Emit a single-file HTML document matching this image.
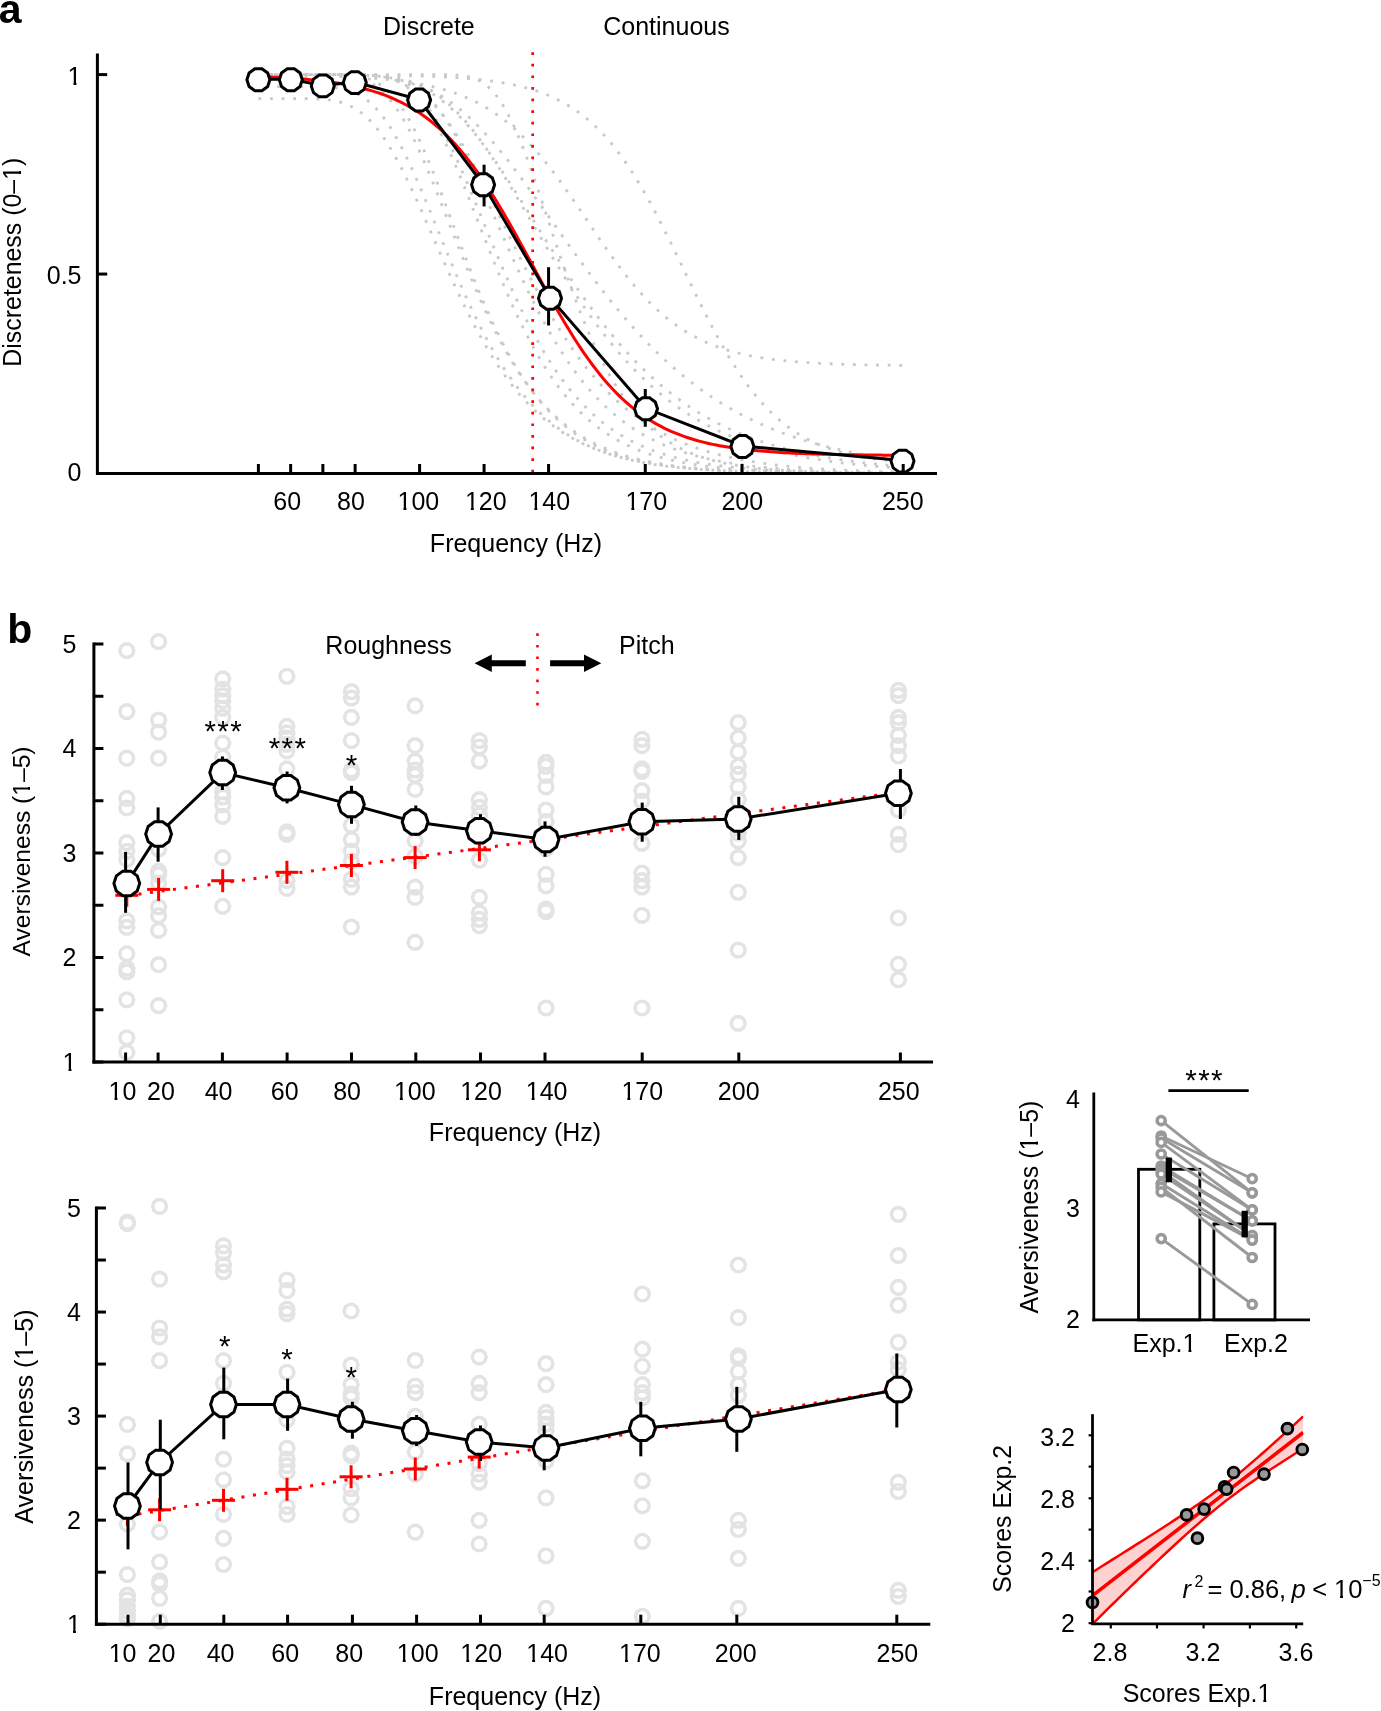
<!DOCTYPE html>
<html><head><meta charset="utf-8"><style>
html,body{margin:0;padding:0;background:#fff;}
body{width:1381px;height:1711px;overflow:hidden;font-family:"Liberation Sans", sans-serif;}
svg{display:block;will-change:transform;}
</style></head><body>
<svg width="1381" height="1711" viewBox="0 0 1381 1711" font-family='"Liberation Sans", sans-serif' stroke-linecap="butt">
<polyline points="258.4,98.53 261.62,98.53 264.85,98.53 268.07,98.53 271.3,98.53 274.52,98.53 277.74,98.53 280.97,98.54 284.19,98.54 287.42,98.54 290.64,98.54 293.86,98.55 297.09,98.56 300.31,98.58 303.54,98.61 306.76,98.65 309.98,98.71 313.21,98.79 316.43,98.91 319.66,99.08 322.88,99.3 326.1,99.59 329.33,99.97 332.55,100.45 335.78,101.06 339,101.81 342.22,102.73 345.45,103.83 348.67,105.15 351.9,106.69 355.12,108.49 358.34,110.56 361.57,112.92 364.79,115.59 368.02,118.56 371.24,121.86 374.46,125.49 377.69,129.46 380.91,133.75 384.14,138.36 387.36,143.29 390.58,148.53 393.81,154.06 397.03,159.87 400.26,165.93 403.48,172.23 406.7,178.75 409.93,185.46 413.15,192.33 416.38,199.35 419.6,206.49 422.82,213.72 426.05,221.02 429.27,228.37 432.5,235.74 435.72,243.11 438.94,250.47 442.17,257.79 445.39,265.05 448.62,272.24 451.84,279.34 455.06,286.34 458.29,293.22 461.51,299.98 464.74,306.61 467.96,313.09 471.18,319.41 474.41,325.59 477.63,331.6 480.86,337.44 484.08,343.11 487.3,348.61 490.53,353.95 493.75,359.1 496.98,364.09 500.2,368.9 503.42,373.55 506.65,378.02 509.87,382.33 513.1,386.48 516.32,390.47 519.54,394.3 522.77,397.97 525.99,401.5 529.22,404.88 532.44,408.12 535.66,411.23 538.89,414.2 542.11,417.04 545.34,419.76 548.56,422.36 551.78,424.84 555.01,427.21 558.23,429.47 561.46,431.63 564.68,433.69 567.9,435.66 571.13,437.53 574.35,439.31 577.58,441.01 580.8,442.63 584.02,444.18 587.25,445.65 590.47,447.04 593.7,448.37 596.92,449.64 600.14,450.84 603.37,451.99 606.59,453.08 609.82,454.11 613.04,455.1 616.26,456.03 619.49,456.92 622.71,457.77 625.94,458.57 629.16,459.33 632.38,460.06 635.61,460.74 638.83,461.4 642.06,462.02 645.28,462.61 648.5,463.17 651.73,463.7 654.95,464.2 658.18,464.68 661.4,465.13 664.62,465.57 667.85,465.97 671.07,466.36 674.3,466.73 677.52,467.08 680.74,467.41 683.97,467.73 687.19,468.02 690.42,468.31 693.64,468.58 696.86,468.83 700.09,469.07 703.31,469.3 706.54,469.52 709.76,469.73 712.98,469.92 716.21,470.11 719.43,470.28 722.66,470.45 725.88,470.61 729.1,470.76 732.33,470.9 735.55,471.04 738.78,471.16 742,471.28 745.22,471.4 748.45,471.51 751.67,471.61 754.9,471.71 758.12,471.8 761.34,471.89 764.57,471.97 767.79,472.05 771.02,472.13 774.24,472.2 777.46,472.27 780.69,472.33 783.91,472.39 787.14,472.45 790.36,472.5 793.58,472.56 796.81,472.61 800.03,472.65 803.26,472.7 806.48,472.74 809.7,472.78 812.93,472.82 816.15,472.85 819.38,472.88 822.6,472.92 825.82,472.95 829.05,472.98 832.27,473 835.5,473.03 838.72,473.05 841.94,473.08 845.17,473.1 848.39,473.12 851.62,473.14 854.84,473.16 858.06,473.18 861.29,473.19 864.51,473.21 867.74,473.22 870.96,473.24 874.18,473.25 877.41,473.26 880.63,473.28 883.86,473.29 887.08,473.3 890.3,473.31 893.53,473.32 896.75,473.33 899.98,473.34 903.2,473.35" fill="none" stroke="#c8c8c8" stroke-width="2.8" stroke-dasharray="2.8 8.8" stroke-dashoffset="0"/>
<polyline points="258.4,86.57 261.62,86.57 264.85,86.57 268.07,86.57 271.3,86.57 274.52,86.57 277.74,86.57 280.97,86.57 284.19,86.57 287.42,86.57 290.64,86.57 293.86,86.57 297.09,86.57 300.31,86.58 303.54,86.58 306.76,86.6 309.98,86.62 313.21,86.65 316.43,86.69 319.66,86.76 322.88,86.86 326.1,87 329.33,87.19 332.55,87.45 335.78,87.79 339,88.24 342.22,88.81 345.45,89.53 348.67,90.43 351.9,91.52 355.12,92.83 358.34,94.4 361.57,96.23 364.79,98.36 368.02,100.81 371.24,103.6 374.46,106.73 377.69,110.22 380.91,114.07 384.14,118.3 387.36,122.89 390.58,127.84 393.81,133.15 397.03,138.8 400.26,144.77 403.48,151.04 406.7,157.6 409.93,164.41 413.15,171.46 416.38,178.71 419.6,186.14 422.82,193.72 426.05,201.42 429.27,209.21 432.5,217.06 435.72,224.96 438.94,232.87 442.17,240.76 445.39,248.62 448.62,256.42 451.84,264.15 455.06,271.79 458.29,279.31 461.51,286.71 464.74,293.96 467.96,301.07 471.18,308.02 474.41,314.8 477.63,321.41 480.86,327.83 484.08,334.07 487.3,340.12 490.53,345.97 493.75,351.64 496.98,357.12 500.2,362.4 503.42,367.49 506.65,372.39 509.87,377.11 513.1,381.64 516.32,386 519.54,390.17 522.77,394.18 525.99,398.02 529.22,401.69 532.44,405.21 535.66,408.57 538.89,411.78 542.11,414.85 545.34,417.78 548.56,420.57 551.78,423.24 555.01,425.78 558.23,428.2 561.46,430.51 564.68,432.7 567.9,434.79 571.13,436.78 574.35,438.67 577.58,440.47 580.8,442.18 584.02,443.81 587.25,445.35 590.47,446.82 593.7,448.22 596.92,449.54 600.14,450.79 603.37,451.99 606.59,453.12 609.82,454.19 613.04,455.21 616.26,456.18 619.49,457.09 622.71,457.96 625.94,458.78 629.16,459.56 632.38,460.3 635.61,461.01 638.83,461.67 642.06,462.3 645.28,462.9 648.5,463.46 651.73,464 654.95,464.51 658.18,464.99 661.4,465.44 664.62,465.87 667.85,466.28 671.07,466.67 674.3,467.03 677.52,467.38 680.74,467.71 683.97,468.02 687.19,468.31 690.42,468.59 693.64,468.86 696.86,469.11 700.09,469.34 703.31,469.57 706.54,469.78 709.76,469.98 712.98,470.17 716.21,470.35 719.43,470.52 722.66,470.68 725.88,470.83 729.1,470.97 732.33,471.11 735.55,471.24 738.78,471.36 742,471.47 745.22,471.58 748.45,471.69 751.67,471.79 754.9,471.88 758.12,471.97 761.34,472.05 764.57,472.13 767.79,472.2 771.02,472.27 774.24,472.34 777.46,472.4 780.69,472.46 783.91,472.52 787.14,472.57 790.36,472.62 793.58,472.67 796.81,472.71 800.03,472.75 803.26,472.79 806.48,472.83 809.7,472.87 812.93,472.9 816.15,472.93 819.38,472.97 822.6,472.99 825.82,473.02 829.05,473.05 832.27,473.07 835.5,473.09 838.72,473.12 841.94,473.14 845.17,473.16 848.39,473.18 851.62,473.19 854.84,473.21 858.06,473.23 861.29,473.24 864.51,473.25 867.74,473.27 870.96,473.28 874.18,473.29 877.41,473.3 880.63,473.31 883.86,473.32 887.08,473.33 890.3,473.34 893.53,473.35 896.75,473.36 899.98,473.37 903.2,473.37" fill="none" stroke="#c8c8c8" stroke-width="2.8" stroke-dasharray="2.8 8.8" stroke-dashoffset="4.5"/>
<polyline points="258.4,74.6 261.62,74.6 264.85,74.6 268.07,74.6 271.3,74.6 274.52,74.6 277.74,74.6 280.97,74.6 284.19,74.6 287.42,74.6 290.64,74.6 293.86,74.6 297.09,74.6 300.31,74.6 303.54,74.6 306.76,74.6 309.98,74.61 313.21,74.61 316.43,74.62 319.66,74.63 322.88,74.65 326.1,74.69 329.33,74.74 332.55,74.82 335.78,74.93 339,75.08 342.22,75.3 345.45,75.59 348.67,75.97 351.9,76.47 355.12,77.1 358.34,77.9 361.57,78.89 364.79,80.1 368.02,81.55 371.24,83.27 374.46,85.28 377.69,87.62 380.91,90.29 384.14,93.33 387.36,96.73 390.58,100.52 393.81,104.7 397.03,109.26 400.26,114.21 403.48,119.54 406.7,125.23 409.93,131.27 413.15,137.65 416.38,144.34 419.6,151.31 422.82,158.54 426.05,166 429.27,173.66 432.5,181.49 435.72,189.46 438.94,197.55 442.17,205.71 445.39,213.93 448.62,222.17 451.84,230.41 455.06,238.62 458.29,246.78 461.51,254.87 464.74,262.86 467.96,270.75 471.18,278.5 474.41,286.12 477.63,293.57 480.86,300.87 484.08,307.99 487.3,314.92 490.53,321.67 493.75,328.22 496.98,334.57 500.2,340.72 503.42,346.67 506.65,352.42 509.87,357.97 513.1,363.31 516.32,368.45 519.54,373.4 522.77,378.16 525.99,382.72 529.22,387.1 532.44,391.29 535.66,395.31 538.89,399.16 542.11,402.83 545.34,406.35 548.56,409.71 551.78,412.91 555.01,415.97 558.23,418.89 561.46,421.67 564.68,424.32 567.9,426.84 571.13,429.24 574.35,431.53 577.58,433.7 580.8,435.77 584.02,437.74 587.25,439.6 590.47,441.38 593.7,443.07 596.92,444.67 600.14,446.19 603.37,447.63 606.59,449 609.82,450.3 613.04,451.53 616.26,452.7 619.49,453.81 622.71,454.86 625.94,455.85 629.16,456.79 632.38,457.69 635.61,458.54 638.83,459.34 642.06,460.1 645.28,460.82 648.5,461.5 651.73,462.15 654.95,462.76 658.18,463.34 661.4,463.89 664.62,464.41 667.85,464.9 671.07,465.36 674.3,465.8 677.52,466.22 680.74,466.61 683.97,466.99 687.19,467.34 690.42,467.67 693.64,467.99 696.86,468.29 700.09,468.57 703.31,468.84 706.54,469.09 709.76,469.33 712.98,469.56 716.21,469.77 719.43,469.98 722.66,470.17 725.88,470.35 729.1,470.52 732.33,470.68 735.55,470.84 738.78,470.98 742,471.12 745.22,471.25 748.45,471.37 751.67,471.49 754.9,471.6 758.12,471.7 761.34,471.8 764.57,471.89 767.79,471.98 771.02,472.06 774.24,472.14 777.46,472.21 780.69,472.28 783.91,472.35 787.14,472.41 790.36,472.47 793.58,472.53 796.81,472.58 800.03,472.63 803.26,472.68 806.48,472.72 809.7,472.77 812.93,472.81 816.15,472.84 819.38,472.88 822.6,472.91 825.82,472.95 829.05,472.98 832.27,473 835.5,473.03 838.72,473.06 841.94,473.08 845.17,473.1 848.39,473.13 851.62,473.15 854.84,473.17 858.06,473.18 861.29,473.2 864.51,473.22 867.74,473.23 870.96,473.25 874.18,473.26 877.41,473.27 880.63,473.29 883.86,473.3 887.08,473.31 890.3,473.32 893.53,473.33 896.75,473.34 899.98,473.35 903.2,473.36" fill="none" stroke="#c8c8c8" stroke-width="2.8" stroke-dasharray="2.8 8.8" stroke-dashoffset="0"/>
<polyline points="258.4,74.6 261.62,74.6 264.85,74.6 268.07,74.6 271.3,74.6 274.52,74.6 277.74,74.6 280.97,74.6 284.19,74.6 287.42,74.6 290.64,74.6 293.86,74.6 297.09,74.6 300.31,74.6 303.54,74.6 306.76,74.6 309.98,74.6 313.21,74.6 316.43,74.6 319.66,74.61 322.88,74.61 326.1,74.62 329.33,74.63 332.55,74.66 335.78,74.7 339,74.76 342.22,74.85 345.45,74.98 348.67,75.16 351.9,75.41 355.12,75.76 358.34,76.22 361.57,76.82 364.79,77.59 368.02,78.55 371.24,79.74 374.46,81.19 377.69,82.93 380.91,84.99 384.14,87.4 387.36,90.18 390.58,93.35 393.81,96.93 397.03,100.92 400.26,105.34 403.48,110.19 406.7,115.46 409.93,121.14 413.15,127.22 416.38,133.67 419.6,140.48 422.82,147.62 426.05,155.06 429.27,162.77 432.5,170.71 435.72,178.85 438.94,187.15 442.17,195.59 445.39,204.12 448.62,212.72 451.84,221.35 455.06,229.97 458.29,238.57 461.51,247.12 464.74,255.58 467.96,263.94 471.18,272.17 474.41,280.26 477.63,288.19 480.86,295.95 484.08,303.53 487.3,310.91 490.53,318.08 493.75,325.05 496.98,331.79 500.2,338.32 503.42,344.63 506.65,350.72 509.87,356.58 513.1,362.23 516.32,367.65 519.54,372.86 522.77,377.85 525.99,382.64 529.22,387.22 532.44,391.61 535.66,395.79 538.89,399.79 542.11,403.61 545.34,407.25 548.56,410.72 551.78,414.03 555.01,417.17 558.23,420.16 561.46,423.01 564.68,425.71 567.9,428.28 571.13,430.72 574.35,433.04 577.58,435.23 580.8,437.32 584.02,439.29 587.25,441.16 590.47,442.94 593.7,444.62 596.92,446.21 600.14,447.72 603.37,449.15 606.59,450.5 609.82,451.77 613.04,452.98 616.26,454.13 619.49,455.21 622.71,456.23 625.94,457.2 629.16,458.11 632.38,458.97 635.61,459.79 638.83,460.56 642.06,461.29 645.28,461.97 648.5,462.62 651.73,463.24 654.95,463.82 658.18,464.36 661.4,464.88 664.62,465.37 667.85,465.83 671.07,466.26 674.3,466.67 677.52,467.06 680.74,467.42 683.97,467.77 687.19,468.09 690.42,468.4 693.64,468.69 696.86,468.96 700.09,469.22 703.31,469.46 706.54,469.69 709.76,469.91 712.98,470.11 716.21,470.31 719.43,470.49 722.66,470.66 725.88,470.82 729.1,470.97 732.33,471.12 735.55,471.25 738.78,471.38 742,471.5 745.22,471.62 748.45,471.72 751.67,471.82 754.9,471.92 758.12,472.01 761.34,472.1 764.57,472.18 767.79,472.25 771.02,472.32 774.24,472.39 777.46,472.45 780.69,472.51 783.91,472.57 787.14,472.62 790.36,472.67 793.58,472.72 796.81,472.76 800.03,472.81 803.26,472.85 806.48,472.88 809.7,472.92 812.93,472.95 816.15,472.98 819.38,473.01 822.6,473.04 825.82,473.07 829.05,473.09 832.27,473.11 835.5,473.14 838.72,473.16 841.94,473.18 845.17,473.2 848.39,473.21 851.62,473.23 854.84,473.24 858.06,473.26 861.29,473.27 864.51,473.29 867.74,473.3 870.96,473.31 874.18,473.32 877.41,473.33 880.63,473.34 883.86,473.35 887.08,473.36 890.3,473.37 893.53,473.37 896.75,473.38 899.98,473.39 903.2,473.39" fill="none" stroke="#c8c8c8" stroke-width="2.8" stroke-dasharray="2.8 8.8" stroke-dashoffset="6"/>
<polyline points="258.4,74.6 261.62,74.6 264.85,74.6 268.07,74.6 271.3,74.6 274.52,74.6 277.74,74.6 280.97,74.6 284.19,74.6 287.42,74.6 290.64,74.6 293.86,74.6 297.09,74.6 300.31,74.6 303.54,74.6 306.76,74.6 309.98,74.6 313.21,74.6 316.43,74.6 319.66,74.6 322.88,74.6 326.1,74.6 329.33,74.6 332.55,74.6 335.78,74.6 339,74.6 342.22,74.61 345.45,74.62 348.67,74.63 351.9,74.65 355.12,74.68 358.34,74.72 361.57,74.79 364.79,74.89 368.02,75.03 371.24,75.23 374.46,75.49 377.69,75.85 380.91,76.31 384.14,76.91 387.36,77.66 390.58,78.6 393.81,79.74 397.03,81.13 400.26,82.78 403.48,84.72 406.7,86.97 409.93,89.57 413.15,92.51 416.38,95.83 419.6,99.54 422.82,103.63 426.05,108.11 429.27,112.98 432.5,118.23 435.72,123.85 438.94,129.83 442.17,136.15 445.39,142.78 448.62,149.71 451.84,156.9 455.06,164.34 458.29,171.98 461.51,179.8 464.74,187.77 467.96,195.85 471.18,204.03 474.41,212.26 477.63,220.52 480.86,228.78 484.08,237.03 487.3,245.22 490.53,253.35 493.75,261.38 496.98,269.31 500.2,277.11 503.42,284.77 506.65,292.28 509.87,299.63 513.1,306.79 516.32,313.78 519.54,320.58 522.77,327.18 525.99,333.58 529.22,339.78 532.44,345.78 535.66,351.57 538.89,357.17 542.11,362.55 545.34,367.74 548.56,372.73 551.78,377.52 555.01,382.12 558.23,386.54 561.46,390.77 564.68,394.82 567.9,398.7 571.13,402.41 574.35,405.95 577.58,409.33 580.8,412.57 584.02,415.65 587.25,418.59 590.47,421.39 593.7,424.06 596.92,426.6 600.14,429.02 603.37,431.33 606.59,433.52 609.82,435.6 613.04,437.58 616.26,439.46 619.49,441.25 622.71,442.94 625.94,444.56 629.16,446.09 632.38,447.54 635.61,448.91 638.83,450.22 642.06,451.46 645.28,452.64 648.5,453.75 651.73,454.81 654.95,455.81 658.18,456.76 661.4,457.65 664.62,458.51 667.85,459.31 671.07,460.08 674.3,460.8 677.52,461.49 680.74,462.13 683.97,462.75 687.19,463.33 690.42,463.88 693.64,464.4 696.86,464.89 700.09,465.36 703.31,465.8 706.54,466.22 709.76,466.62 712.98,466.99 716.21,467.34 719.43,467.68 722.66,467.99 725.88,468.29 729.1,468.58 732.33,468.85 735.55,469.1 738.78,469.34 742,469.57 745.22,469.78 748.45,469.98 751.67,470.18 754.9,470.36 758.12,470.53 761.34,470.69 764.57,470.84 767.79,470.99 771.02,471.13 774.24,471.26 777.46,471.38 780.69,471.49 783.91,471.6 787.14,471.71 790.36,471.81 793.58,471.9 796.81,471.99 800.03,472.07 803.26,472.15 806.48,472.22 809.7,472.29 812.93,472.36 816.15,472.42 819.38,472.48 822.6,472.53 825.82,472.59 829.05,472.64 832.27,472.68 835.5,472.73 838.72,472.77 841.94,472.81 845.17,472.85 848.39,472.88 851.62,472.92 854.84,472.95 858.06,472.98 861.29,473.01 864.51,473.04 867.74,473.06 870.96,473.08 874.18,473.11 877.41,473.13 880.63,473.15 883.86,473.17 887.08,473.19 890.3,473.2 893.53,473.22 896.75,473.24 899.98,473.25 903.2,473.26" fill="none" stroke="#c8c8c8" stroke-width="2.8" stroke-dasharray="2.8 8.8" stroke-dashoffset="0"/>
<polyline points="258.4,74.6 261.62,74.6 264.85,74.6 268.07,74.6 271.3,74.6 274.52,74.6 277.74,74.6 280.97,74.6 284.19,74.6 287.42,74.6 290.64,74.6 293.86,74.6 297.09,74.6 300.31,74.6 303.54,74.6 306.76,74.6 309.98,74.6 313.21,74.6 316.43,74.6 319.66,74.6 322.88,74.6 326.1,74.6 329.33,74.6 332.55,74.6 335.78,74.6 339,74.61 342.22,74.61 345.45,74.62 348.67,74.63 351.9,74.66 355.12,74.69 358.34,74.74 361.57,74.81 364.79,74.91 368.02,75.05 371.24,75.24 374.46,75.5 377.69,75.84 380.91,76.28 384.14,76.83 387.36,77.52 390.58,78.38 393.81,79.42 397.03,80.67 400.26,82.15 403.48,83.89 406.7,85.9 409.93,88.21 413.15,90.84 416.38,93.79 419.6,97.09 422.82,100.73 426.05,104.73 429.27,109.08 432.5,113.78 435.72,118.82 438.94,124.21 442.17,129.91 445.39,135.92 448.62,142.22 451.84,148.78 455.06,155.59 458.29,162.62 461.51,169.85 464.74,177.24 467.96,184.78 471.18,192.43 474.41,200.18 477.63,207.99 480.86,215.84 484.08,223.71 487.3,231.57 490.53,239.4 493.75,247.18 496.98,254.9 500.2,262.53 503.42,270.06 506.65,277.48 509.87,284.77 513.1,291.92 516.32,298.92 519.54,305.76 522.77,312.44 525.99,318.95 529.22,325.28 532.44,331.44 535.66,337.41 538.89,343.2 542.11,348.8 545.34,354.22 548.56,359.45 551.78,364.51 555.01,369.38 558.23,374.07 561.46,378.59 564.68,382.93 567.9,387.1 571.13,391.11 574.35,394.96 577.58,398.65 580.8,402.18 584.02,405.57 587.25,408.81 590.47,411.91 593.7,414.88 596.92,417.71 600.14,420.42 603.37,423.01 606.59,425.48 609.82,427.84 613.04,430.09 616.26,432.23 619.49,434.28 622.71,436.22 625.94,438.08 629.16,439.85 632.38,441.53 635.61,443.14 638.83,444.66 642.06,446.12 645.28,447.5 648.5,448.81 651.73,450.06 654.95,451.25 658.18,452.38 661.4,453.46 664.62,454.48 667.85,455.45 671.07,456.37 674.3,457.25 677.52,458.08 680.74,458.87 683.97,459.62 687.19,460.33 690.42,461.01 693.64,461.65 696.86,462.26 700.09,462.84 703.31,463.39 706.54,463.91 709.76,464.4 712.98,464.87 716.21,465.32 719.43,465.74 722.66,466.14 725.88,466.52 729.1,466.89 732.33,467.23 735.55,467.55 738.78,467.86 742,468.15 745.22,468.43 748.45,468.69 751.67,468.94 754.9,469.18 758.12,469.4 761.34,469.62 764.57,469.82 767.79,470.01 771.02,470.19 774.24,470.36 777.46,470.53 780.69,470.68 783.91,470.83 787.14,470.97 790.36,471.1 793.58,471.22 796.81,471.34 800.03,471.46 803.26,471.56 806.48,471.66 809.7,471.76 812.93,471.85 816.15,471.94 819.38,472.02 822.6,472.09 825.82,472.17 829.05,472.24 832.27,472.3 835.5,472.36 838.72,472.42 841.94,472.48 845.17,472.53 848.39,472.58 851.62,472.63 854.84,472.68 858.06,472.72 861.29,472.76 864.51,472.8 867.74,472.84 870.96,472.87 874.18,472.9 877.41,472.93 880.63,472.96 883.86,472.99 887.08,473.02 890.3,473.04 893.53,473.07 896.75,473.09 899.98,473.11 903.2,473.13" fill="none" stroke="#c8c8c8" stroke-width="2.8" stroke-dasharray="2.8 8.8" stroke-dashoffset="2.5"/>
<polyline points="258.4,74.6 261.62,74.6 264.85,74.6 268.07,74.6 271.3,74.6 274.52,74.6 277.74,74.6 280.97,74.6 284.19,74.6 287.42,74.6 290.64,74.6 293.86,74.6 297.09,74.6 300.31,74.6 303.54,74.6 306.76,74.6 309.98,74.6 313.21,74.6 316.43,74.6 319.66,74.6 322.88,74.6 326.1,74.6 329.33,74.6 332.55,74.6 335.78,74.6 339,74.6 342.22,74.61 345.45,74.61 348.67,74.62 351.9,74.63 355.12,74.65 358.34,74.68 361.57,74.72 364.79,74.78 368.02,74.87 371.24,74.98 374.46,75.13 377.69,75.34 380.91,75.6 384.14,75.94 387.36,76.37 390.58,76.9 393.81,77.56 397.03,78.36 400.26,79.32 403.48,80.46 406.7,81.8 409.93,83.36 413.15,85.15 416.38,87.19 419.6,89.5 422.82,92.1 426.05,94.98 429.27,98.16 432.5,101.64 435.72,105.44 438.94,109.54 442.17,113.94 445.39,118.65 448.62,123.65 451.84,128.93 455.06,134.47 458.29,140.28 461.51,146.32 464.74,152.58 467.96,159.04 471.18,165.68 474.41,172.48 477.63,179.42 480.86,186.48 484.08,193.64 487.3,200.87 490.53,208.16 493.75,215.48 496.98,222.81 500.2,230.15 503.42,237.46 506.65,244.73 509.87,251.95 513.1,259.1 516.32,266.17 519.54,273.15 522.77,280.02 525.99,286.78 529.22,293.41 532.44,299.92 535.66,306.28 538.89,312.5 542.11,318.58 545.34,324.5 548.56,330.26 551.78,335.87 555.01,341.32 558.23,346.6 561.46,351.73 564.68,356.7 567.9,361.51 571.13,366.15 574.35,370.65 577.58,374.98 580.8,379.17 584.02,383.2 587.25,387.09 590.47,390.83 593.7,394.43 596.92,397.9 600.14,401.23 603.37,404.43 606.59,407.5 609.82,410.45 613.04,413.28 616.26,415.99 619.49,418.6 622.71,421.09 625.94,423.48 629.16,425.77 632.38,427.95 635.61,430.05 638.83,432.06 642.06,433.97 645.28,435.81 648.5,437.56 651.73,439.23 654.95,440.84 658.18,442.36 661.4,443.82 664.62,445.22 667.85,446.55 671.07,447.82 674.3,449.04 677.52,450.19 680.74,451.3 683.97,452.35 687.19,453.36 690.42,454.31 693.64,455.23 696.86,456.1 700.09,456.93 703.31,457.72 706.54,458.48 709.76,459.2 712.98,459.88 716.21,460.54 719.43,461.16 722.66,461.75 725.88,462.32 729.1,462.85 732.33,463.37 735.55,463.85 738.78,464.32 742,464.76 745.22,465.18 748.45,465.59 751.67,465.97 754.9,466.33 758.12,466.68 761.34,467.01 764.57,467.32 767.79,467.62 771.02,467.91 774.24,468.18 777.46,468.44 780.69,468.68 783.91,468.91 787.14,469.14 790.36,469.35 793.58,469.55 796.81,469.74 800.03,469.92 803.26,470.1 806.48,470.26 809.7,470.42 812.93,470.57 816.15,470.71 819.38,470.85 822.6,470.98 825.82,471.1 829.05,471.22 832.27,471.33 835.5,471.43 838.72,471.53 841.94,471.63 845.17,471.72 848.39,471.81 851.62,471.89 854.84,471.97 858.06,472.04 861.29,472.11 864.51,472.18 867.74,472.24 870.96,472.31 874.18,472.36 877.41,472.42 880.63,472.47 883.86,472.52 887.08,472.57 890.3,472.62 893.53,472.66 896.75,472.7 899.98,472.74 903.2,472.78" fill="none" stroke="#c8c8c8" stroke-width="2.8" stroke-dasharray="2.8 8.8" stroke-dashoffset="0"/>
<polyline points="258.4,74.6 261.62,74.6 264.85,74.6 268.07,74.6 271.3,74.6 274.52,74.6 277.74,74.6 280.97,74.6 284.19,74.6 287.42,74.6 290.64,74.6 293.86,74.6 297.09,74.6 300.31,74.6 303.54,74.6 306.76,74.6 309.98,74.6 313.21,74.6 316.43,74.6 319.66,74.6 322.88,74.6 326.1,74.6 329.33,74.61 332.55,74.61 335.78,74.61 339,74.62 342.22,74.64 345.45,74.65 348.67,74.68 351.9,74.71 355.12,74.76 358.34,74.83 361.57,74.92 364.79,75.04 368.02,75.19 371.24,75.39 374.46,75.64 377.69,75.95 380.91,76.33 384.14,76.8 387.36,77.37 390.58,78.04 393.81,78.85 397.03,79.79 400.26,80.88 403.48,82.14 406.7,83.58 409.93,85.21 413.15,87.05 416.38,89.11 419.6,91.39 422.82,93.9 426.05,96.65 429.27,99.65 432.5,102.9 435.72,106.4 438.94,110.15 442.17,114.14 445.39,118.38 448.62,122.85 451.84,127.56 455.06,132.48 458.29,137.62 461.51,142.96 464.74,148.48 467.96,154.18 471.18,160.03 474.41,166.03 477.63,172.16 480.86,178.4 484.08,184.74 487.3,191.17 490.53,197.66 493.75,204.2 496.98,210.78 500.2,217.38 503.42,223.99 506.65,230.6 509.87,237.18 513.1,243.74 516.32,250.25 519.54,256.71 522.77,263.11 525.99,269.44 529.22,275.69 532.44,281.85 535.66,287.91 538.89,293.87 542.11,299.73 545.34,305.47 548.56,311.1 551.78,316.61 555.01,322 558.23,327.26 561.46,332.39 564.68,337.4 567.9,342.27 571.13,347.02 574.35,351.63 577.58,356.12 580.8,360.47 584.02,364.7 587.25,368.79 590.47,372.77 593.7,376.61 596.92,380.34 600.14,383.94 603.37,387.42 606.59,390.79 609.82,394.04 613.04,397.19 616.26,400.22 619.49,403.14 622.71,405.96 625.94,408.68 629.16,411.3 632.38,413.82 635.61,416.25 638.83,418.59 642.06,420.84 645.28,423.01 648.5,425.09 651.73,427.09 654.95,429.02 658.18,430.87 661.4,432.65 664.62,434.36 667.85,436 671.07,437.57 674.3,439.08 677.52,440.54 680.74,441.93 683.97,443.26 687.19,444.55 690.42,445.78 693.64,446.96 696.86,448.09 700.09,449.17 703.31,450.21 706.54,451.21 709.76,452.16 712.98,453.08 716.21,453.96 719.43,454.8 722.66,455.6 725.88,456.37 729.1,457.11 732.33,457.82 735.55,458.5 738.78,459.14 742,459.77 745.22,460.36 748.45,460.93 751.67,461.48 754.9,462 758.12,462.5 761.34,462.98 764.57,463.43 767.79,463.87 771.02,464.29 774.24,464.69 777.46,465.07 780.69,465.44 783.91,465.79 787.14,466.13 790.36,466.45 793.58,466.76 796.81,467.05 800.03,467.34 803.26,467.61 806.48,467.86 809.7,468.11 812.93,468.35 816.15,468.57 819.38,468.79 822.6,468.99 825.82,469.19 829.05,469.38 832.27,469.56 835.5,469.73 838.72,469.9 841.94,470.06 845.17,470.21 848.39,470.35 851.62,470.49 854.84,470.62 858.06,470.75 861.29,470.87 864.51,470.98 867.74,471.09 870.96,471.2 874.18,471.3 877.41,471.4 880.63,471.49 883.86,471.58 887.08,471.66 890.3,471.74 893.53,471.82 896.75,471.89 899.98,471.97 903.2,472.03" fill="none" stroke="#c8c8c8" stroke-width="2.8" stroke-dasharray="2.8 8.8" stroke-dashoffset="0"/>
<polyline points="258.4,74.6 261.62,74.6 264.85,74.6 268.07,74.6 271.3,74.6 274.52,74.6 277.74,74.6 280.97,74.6 284.19,74.6 287.42,74.6 290.64,74.6 293.86,74.6 297.09,74.6 300.31,74.6 303.54,74.6 306.76,74.6 309.98,74.6 313.21,74.6 316.43,74.6 319.66,74.6 322.88,74.61 326.1,74.61 329.33,74.61 332.55,74.62 335.78,74.63 339,74.64 342.22,74.65 345.45,74.67 348.67,74.7 351.9,74.73 355.12,74.78 358.34,74.83 361.57,74.91 364.79,75 368.02,75.11 371.24,75.26 374.46,75.43 377.69,75.64 380.91,75.9 384.14,76.2 387.36,76.56 390.58,76.99 393.81,77.48 397.03,78.05 400.26,78.71 403.48,79.46 406.7,80.32 409.93,81.29 413.15,82.37 416.38,83.58 419.6,84.92 422.82,86.41 426.05,88.04 429.27,89.82 432.5,91.77 435.72,93.87 438.94,96.14 442.17,98.58 445.39,101.19 448.62,103.97 451.84,106.93 455.06,110.06 458.29,113.36 461.51,116.83 464.74,120.46 467.96,124.26 471.18,128.21 474.41,132.31 477.63,136.57 480.86,140.96 484.08,145.48 487.3,150.13 490.53,154.89 493.75,159.76 496.98,164.74 500.2,169.8 503.42,174.95 506.65,180.18 509.87,185.46 513.1,190.81 516.32,196.19 519.54,201.62 522.77,207.08 525.99,212.56 529.22,218.05 532.44,223.55 535.66,229.04 538.89,234.52 542.11,239.99 545.34,245.43 548.56,250.83 551.78,256.21 555.01,261.54 558.23,266.82 561.46,272.05 564.68,277.22 567.9,282.33 571.13,287.37 574.35,292.34 577.58,297.24 580.8,302.07 584.02,306.81 587.25,311.48 590.47,316.06 593.7,320.56 596.92,324.97 600.14,329.29 603.37,333.53 606.59,337.67 609.82,341.73 613.04,345.7 616.26,349.57 619.49,353.36 622.71,357.06 625.94,360.66 629.16,364.18 632.38,367.61 635.61,370.95 638.83,374.21 642.06,377.38 645.28,380.46 648.5,383.46 651.73,386.38 654.95,389.22 658.18,391.97 661.4,394.65 664.62,397.25 667.85,399.78 671.07,402.23 674.3,404.61 677.52,406.92 680.74,409.16 683.97,411.33 687.19,413.43 690.42,415.47 693.64,417.45 696.86,419.36 700.09,421.21 703.31,423.01 706.54,424.75 709.76,426.43 712.98,428.06 716.21,429.63 719.43,431.15 722.66,432.63 725.88,434.05 729.1,435.43 732.33,436.77 735.55,438.05 738.78,439.3 742,440.5 745.22,441.67 748.45,442.79 751.67,443.88 754.9,444.93 758.12,445.94 761.34,446.92 764.57,447.86 767.79,448.77 771.02,449.66 774.24,450.51 777.46,451.33 780.69,452.12 783.91,452.89 787.14,453.62 790.36,454.34 793.58,455.03 796.81,455.69 800.03,456.33 803.26,456.95 806.48,457.54 809.7,458.12 812.93,458.67 816.15,459.21 819.38,459.72 822.6,460.22 825.82,460.7 829.05,461.17 832.27,461.61 835.5,462.04 838.72,462.46 841.94,462.86 845.17,463.24 848.39,463.62 851.62,463.98 854.84,464.32 858.06,464.66 861.29,464.98 864.51,465.29 867.74,465.59 870.96,465.87 874.18,466.15 877.41,466.42 880.63,466.68 883.86,466.93 887.08,467.17 890.3,467.4 893.53,467.62 896.75,467.83 899.98,468.04 903.2,468.24" fill="none" stroke="#c8c8c8" stroke-width="2.8" stroke-dasharray="2.8 8.8" stroke-dashoffset="0"/>
<polyline points="258.4,74.6 261.62,74.6 264.85,74.6 268.07,74.6 271.3,74.6 274.52,74.6 277.74,74.6 280.97,74.6 284.19,74.6 287.42,74.6 290.64,74.6 293.86,74.6 297.09,74.6 300.31,74.6 303.54,74.6 306.76,74.6 309.98,74.6 313.21,74.61 316.43,74.61 319.66,74.61 322.88,74.62 326.1,74.62 329.33,74.63 332.55,74.65 335.78,74.67 339,74.69 342.22,74.72 345.45,74.76 348.67,74.81 351.9,74.87 355.12,74.94 358.34,75.04 361.57,75.15 364.79,75.3 368.02,75.47 371.24,75.67 374.46,75.92 377.69,76.2 380.91,76.54 384.14,76.93 387.36,77.39 390.58,77.91 393.81,78.51 397.03,79.18 400.26,79.95 403.48,80.81 406.7,81.77 409.93,82.84 413.15,84.03 416.38,85.33 419.6,86.76 422.82,88.32 426.05,90.02 429.27,91.86 432.5,93.84 435.72,95.97 438.94,98.24 442.17,100.67 445.39,103.25 448.62,105.99 451.84,108.87 455.06,111.91 458.29,115.1 461.51,118.43 464.74,121.91 467.96,125.53 471.18,129.29 474.41,133.18 477.63,137.2 480.86,141.35 484.08,145.61 487.3,149.98 490.53,154.45 493.75,159.02 496.98,163.68 500.2,168.42 503.42,173.24 506.65,178.12 509.87,183.07 513.1,188.07 516.32,193.11 519.54,198.2 522.77,203.31 525.99,208.45 529.22,213.6 532.44,218.76 535.66,223.93 538.89,229.09 542.11,234.25 545.34,239.39 548.56,244.51 551.78,249.6 555.01,254.66 558.23,259.68 561.46,264.67 564.68,269.6 567.9,274.49 571.13,279.33 574.35,284.11 577.58,288.83 580.8,293.49 584.02,298.08 587.25,302.6 590.47,307.06 593.7,311.44 596.92,315.75 600.14,319.99 603.37,324.15 606.59,328.23 609.82,332.24 613.04,336.16 616.26,340.01 619.49,343.78 622.71,347.47 625.94,351.08 629.16,354.61 632.38,358.05 635.61,361.43 638.83,364.72 642.06,367.93 645.28,371.07 648.5,374.13 651.73,377.11 654.95,380.02 658.18,382.85 661.4,385.62 664.62,388.31 667.85,390.92 671.07,393.47 674.3,395.95 677.52,398.37 680.74,400.71 683.97,402.99 687.19,405.21 690.42,407.37 693.64,409.46 696.86,411.49 700.09,413.47 703.31,415.39 706.54,417.25 709.76,419.05 712.98,420.81 716.21,422.51 719.43,424.16 722.66,425.76 725.88,427.31 729.1,428.82 732.33,430.27 735.55,431.69 738.78,433.06 742,434.39 745.22,435.67 748.45,436.92 751.67,438.13 754.9,439.3 758.12,440.43 761.34,441.53 764.57,442.59 767.79,443.62 771.02,444.61 774.24,445.58 777.46,446.51 780.69,447.41 783.91,448.29 787.14,449.13 790.36,449.95 793.58,450.74 796.81,451.51 800.03,452.25 803.26,452.96 806.48,453.65 809.7,454.32 812.93,454.97 816.15,455.6 819.38,456.2 822.6,456.79 825.82,457.36 829.05,457.9 832.27,458.43 835.5,458.95 838.72,459.44 841.94,459.92 845.17,460.38 848.39,460.83 851.62,461.26 854.84,461.68 858.06,462.08 861.29,462.47 864.51,462.84 867.74,463.21 870.96,463.56 874.18,463.9 877.41,464.23 880.63,464.55 883.86,464.85 887.08,465.15 890.3,465.43 893.53,465.71 896.75,465.98 899.98,466.24 903.2,466.48" fill="none" stroke="#c8c8c8" stroke-width="2.8" stroke-dasharray="2.8 8.8" stroke-dashoffset="8"/>
<polyline points="258.4,74.6 261.62,74.6 264.85,74.6 268.07,74.6 271.3,74.6 274.52,74.6 277.74,74.6 280.97,74.6 284.19,74.6 287.42,74.6 290.64,74.6 293.86,74.6 297.09,74.6 300.31,74.6 303.54,74.61 306.76,74.61 309.98,74.61 313.21,74.62 316.43,74.62 319.66,74.63 322.88,74.64 326.1,74.65 329.33,74.67 332.55,74.69 335.78,74.72 339,74.75 342.22,74.79 345.45,74.84 348.67,74.9 351.9,74.98 355.12,75.07 358.34,75.18 361.57,75.3 364.79,75.46 368.02,75.63 371.24,75.84 374.46,76.08 377.69,76.36 380.91,76.68 384.14,77.05 387.36,77.46 390.58,77.93 393.81,78.46 397.03,79.05 400.26,79.71 403.48,80.44 406.7,81.25 409.93,82.15 413.15,83.13 416.38,84.2 419.6,85.37 422.82,86.63 426.05,88 429.27,89.47 432.5,91.06 435.72,92.75 438.94,94.56 442.17,96.49 445.39,98.54 448.62,100.7 451.84,102.98 455.06,105.39 458.29,107.91 461.51,110.56 464.74,113.32 467.96,116.2 471.18,119.2 474.41,122.31 477.63,125.53 480.86,128.86 484.08,132.29 487.3,135.83 490.53,139.46 493.75,143.19 496.98,147.01 500.2,150.91 503.42,154.9 506.65,158.95 509.87,163.09 513.1,167.28 516.32,171.54 519.54,175.85 522.77,180.21 525.99,184.62 529.22,189.07 532.44,193.55 535.66,198.06 538.89,202.6 542.11,207.15 545.34,211.72 548.56,216.3 551.78,220.89 555.01,225.47 558.23,230.06 561.46,234.63 564.68,239.19 567.9,243.73 571.13,248.26 574.35,252.76 577.58,257.23 580.8,261.67 584.02,266.08 587.25,270.46 590.47,274.79 593.7,279.08 596.92,283.33 600.14,287.53 603.37,291.68 606.59,295.79 609.82,299.84 613.04,303.83 616.26,307.77 619.49,311.66 622.71,315.48 625.94,319.25 629.16,322.96 632.38,326.6 635.61,330.19 638.83,333.71 642.06,337.18 645.28,340.58 648.5,343.91 651.73,347.19 654.95,350.4 658.18,353.55 661.4,356.64 664.62,359.66 667.85,362.62 671.07,365.52 674.3,368.36 677.52,371.14 680.74,373.86 683.97,376.52 687.19,379.12 690.42,381.66 693.64,384.14 696.86,386.56 700.09,388.93 703.31,391.24 706.54,393.5 709.76,395.71 712.98,397.86 716.21,399.95 719.43,402 722.66,404 725.88,405.94 729.1,407.84 732.33,409.69 735.55,411.49 738.78,413.25 742,414.96 745.22,416.62 748.45,418.24 751.67,419.82 754.9,421.36 758.12,422.86 761.34,424.32 764.57,425.74 767.79,427.12 771.02,428.46 774.24,429.77 777.46,431.04 780.69,432.28 783.91,433.48 787.14,434.65 790.36,435.78 793.58,436.89 796.81,437.96 800.03,439.01 803.26,440.02 806.48,441.01 809.7,441.97 812.93,442.9 816.15,443.81 819.38,444.69 822.6,445.54 825.82,446.37 829.05,447.18 832.27,447.96 835.5,448.72 838.72,449.46 841.94,450.18 845.17,450.88 848.39,451.55 851.62,452.21 854.84,452.85 858.06,453.47 861.29,454.07 864.51,454.65 867.74,455.22 870.96,455.77 874.18,456.3 877.41,456.82 880.63,457.32 883.86,457.81 887.08,458.28 890.3,458.74 893.53,459.19 896.75,459.62 899.98,460.04 903.2,460.45" fill="none" stroke="#c8c8c8" stroke-width="2.8" stroke-dasharray="2.8 8.8" stroke-dashoffset="0"/>
<polyline points="258.4,74.6 261.62,74.6 264.85,74.6 268.07,74.6 271.3,74.6 274.52,74.6 277.74,74.6 280.97,74.6 284.19,74.6 287.42,74.6 290.64,74.6 293.86,74.6 297.09,74.6 300.31,74.6 303.54,74.6 306.76,74.6 309.98,74.6 313.21,74.6 316.43,74.6 319.66,74.6 322.88,74.6 326.1,74.6 329.33,74.6 332.55,74.6 335.78,74.6 339,74.6 342.22,74.6 345.45,74.6 348.67,74.6 351.9,74.6 355.12,74.6 358.34,74.6 361.57,74.6 364.79,74.6 368.02,74.6 371.24,74.6 374.46,74.6 377.69,74.6 380.91,74.6 384.14,74.6 387.36,74.6 390.58,74.6 393.81,74.6 397.03,74.6 400.26,74.6 403.48,74.6 406.7,74.6 409.93,74.6 413.15,74.6 416.38,74.6 419.6,74.6 422.82,74.6 426.05,74.6 429.27,74.6 432.5,74.61 435.72,74.61 438.94,74.63 442.17,74.65 445.39,74.69 448.62,74.75 451.84,74.85 455.06,75 458.29,75.22 461.51,75.54 464.74,75.99 467.96,76.6 471.18,77.42 474.41,78.48 477.63,79.83 480.86,81.51 484.08,83.58 487.3,86.07 490.53,89.02 493.75,92.46 496.98,96.42 500.2,100.92 503.42,105.97 506.65,111.56 509.87,117.68 513.1,124.33 516.32,131.48 519.54,139.1 522.77,147.14 525.99,155.57 529.22,164.34 532.44,173.4 535.66,182.71 538.89,192.2 542.11,201.84 545.34,211.57 548.56,221.35 551.78,231.12 555.01,240.86 558.23,250.51 561.46,260.05 564.68,269.44 567.9,278.66 571.13,287.67 574.35,296.46 577.58,305.02 580.8,313.32 584.02,321.36 587.25,329.12 590.47,336.6 593.7,343.8 596.92,350.72 600.14,357.35 603.37,363.69 606.59,369.76 609.82,375.55 613.04,381.07 616.26,386.32 619.49,391.32 622.71,396.07 625.94,400.57 629.16,404.85 632.38,408.89 635.61,412.72 638.83,416.35 642.06,419.77 645.28,423.01 648.5,426.06 651.73,428.94 654.95,431.66 658.18,434.22 661.4,436.63 664.62,438.91 667.85,441.04 671.07,443.05 674.3,444.95 677.52,446.72 680.74,448.4 683.97,449.97 687.19,451.44 690.42,452.83 693.64,454.13 696.86,455.35 700.09,456.49 703.31,457.57 706.54,458.57 709.76,459.52 712.98,460.41 716.21,461.24 719.43,462.02 722.66,462.75 725.88,463.43 729.1,464.07 732.33,464.68 735.55,465.24 738.78,465.77 742,466.26 745.22,466.72 748.45,467.16 751.67,467.56 754.9,467.94 758.12,468.3 761.34,468.63 764.57,468.94 767.79,469.24 771.02,469.51 774.24,469.77 777.46,470.01 780.69,470.23 783.91,470.44 787.14,470.64 790.36,470.82 793.58,470.99 796.81,471.15 800.03,471.31 803.26,471.45 806.48,471.58 809.7,471.7 812.93,471.82 816.15,471.93 819.38,472.03 822.6,472.12 825.82,472.21 829.05,472.29 832.27,472.37 835.5,472.44 838.72,472.51 841.94,472.58 845.17,472.64 848.39,472.69 851.62,472.74 854.84,472.79 858.06,472.84 861.29,472.88 864.51,472.92 867.74,472.96 870.96,472.99 874.18,473.03 877.41,473.06 880.63,473.08 883.86,473.11 887.08,473.14 890.3,473.16 893.53,473.18 896.75,473.2 899.98,473.22 903.2,473.24" fill="none" stroke="#c8c8c8" stroke-width="2.8" stroke-dasharray="2.8 8.8" stroke-dashoffset="0"/>
<polyline points="258.4,74.96 261.62,74.98 264.85,75.01 268.07,75.03 271.3,75.06 274.52,75.1 277.74,75.13 280.97,75.16 284.19,75.2 287.42,75.24 290.64,75.29 293.86,75.33 297.09,75.38 300.31,75.44 303.54,75.49 306.76,75.55 309.98,75.62 313.21,75.69 316.43,75.76 319.66,75.84 322.88,75.92 326.1,76.01 329.33,76.11 332.55,76.21 335.78,76.32 339,76.44 342.22,76.56 345.45,76.69 348.67,76.84 351.9,76.99 355.12,77.15 358.34,77.32 361.57,77.5 364.79,77.7 368.02,77.91 371.24,78.13 374.46,78.36 377.69,78.62 380.91,78.89 384.14,79.17 387.36,79.48 390.58,79.8 393.81,80.15 397.03,80.52 400.26,80.91 403.48,81.33 406.7,81.78 409.93,82.26 413.15,82.76 416.38,83.3 419.6,83.87 422.82,84.48 426.05,85.13 429.27,85.82 432.5,86.55 435.72,87.33 438.94,88.15 442.17,89.03 445.39,89.96 448.62,90.94 451.84,91.99 455.06,93.1 458.29,94.27 461.51,95.51 464.74,96.82 467.96,98.21 471.18,99.68 474.41,101.23 477.63,102.87 480.86,104.59 484.08,106.41 487.3,108.32 490.53,110.33 493.75,112.44 496.98,114.66 500.2,116.99 503.42,119.43 506.65,121.98 509.87,124.65 513.1,127.44 516.32,130.34 519.54,133.37 522.77,136.51 525.99,139.78 529.22,143.17 532.44,146.68 535.66,150.31 538.89,154.05 542.11,157.91 545.34,161.87 548.56,165.95 551.78,170.12 555.01,174.39 558.23,178.75 561.46,183.19 564.68,187.71 567.9,192.29 571.13,196.93 574.35,201.62 577.58,206.35 580.8,211.11 584.02,215.89 587.25,220.68 590.47,225.46 593.7,230.24 596.92,234.99 600.14,239.72 603.37,244.4 606.59,249.03 609.82,253.6 613.04,258.1 616.26,262.53 619.49,266.87 622.71,271.12 625.94,275.27 629.16,279.32 632.38,283.27 635.61,287.1 638.83,290.83 642.06,294.43 645.28,297.91 648.5,301.28 651.73,304.52 654.95,307.64 658.18,310.65 661.4,313.53 664.62,316.29 667.85,318.93 671.07,321.46 674.3,323.88 677.52,326.19 680.74,328.38 683.97,330.48 687.19,332.47 690.42,334.36 693.64,336.16 696.86,337.87 700.09,339.48 703.31,341.02 706.54,342.47 709.76,343.84 712.98,345.14 716.21,346.37 719.43,347.53 722.66,348.62 725.88,349.65 729.1,350.63 732.33,351.55 735.55,352.41 738.78,353.23 742,354 745.22,354.72 748.45,355.4 751.67,356.04 754.9,356.64 758.12,357.21 761.34,357.74 764.57,358.24 767.79,358.71 771.02,359.15 774.24,359.56 777.46,359.95 780.69,360.32 783.91,360.66 787.14,360.98 790.36,361.28 793.58,361.57 796.81,361.83 800.03,362.08 803.26,362.32 806.48,362.53 809.7,362.74 812.93,362.93 816.15,363.11 819.38,363.28 822.6,363.44 825.82,363.59 829.05,363.73 832.27,363.86 835.5,363.98 838.72,364.1 841.94,364.21 845.17,364.31 848.39,364.4 851.62,364.49 854.84,364.57 858.06,364.65 861.29,364.72 864.51,364.79 867.74,364.85 870.96,364.91 874.18,364.97 877.41,365.02 880.63,365.07 883.86,365.12 887.08,365.16 890.3,365.2 893.53,365.24 896.75,365.28 899.98,365.31 903.2,365.34" fill="none" stroke="#c8c8c8" stroke-width="2.8" stroke-dasharray="2.8 8.8" stroke-dashoffset="0"/>
<polyline points="258.4,74.65 261.62,74.65 264.85,74.65 268.07,74.66 271.3,74.66 274.52,74.67 277.74,74.67 280.97,74.67 284.19,74.68 287.42,74.69 290.64,74.69 293.86,74.7 297.09,74.71 300.31,74.71 303.54,74.72 306.76,74.73 309.98,74.74 313.21,74.75 316.43,74.76 319.66,74.77 322.88,74.78 326.1,74.8 329.33,74.81 332.55,74.82 335.78,74.84 339,74.86 342.22,74.87 345.45,74.89 348.67,74.91 351.9,74.94 355.12,74.96 358.34,74.99 361.57,75.01 364.79,75.04 368.02,75.07 371.24,75.11 374.46,75.14 377.69,75.18 380.91,75.22 384.14,75.27 387.36,75.32 390.58,75.37 393.81,75.42 397.03,75.48 400.26,75.54 403.48,75.61 406.7,75.68 409.93,75.75 413.15,75.84 416.38,75.92 419.6,76.02 422.82,76.12 426.05,76.22 429.27,76.34 432.5,76.46 435.72,76.59 438.94,76.73 442.17,76.88 445.39,77.04 448.62,77.22 451.84,77.4 455.06,77.6 458.29,77.81 461.51,78.03 464.74,78.27 467.96,78.53 471.18,78.81 474.41,79.1 477.63,79.42 480.86,79.76 484.08,80.12 487.3,80.5 490.53,80.91 493.75,81.35 496.98,81.82 500.2,82.32 503.42,82.86 506.65,83.43 509.87,84.04 513.1,84.7 516.32,85.39 519.54,86.14 522.77,86.93 525.99,87.77 529.22,88.67 532.44,89.63 535.66,90.65 538.89,91.74 542.11,92.9 545.34,94.13 548.56,95.44 551.78,96.84 555.01,98.32 558.23,99.89 561.46,101.56 564.68,103.33 567.9,105.21 571.13,107.2 574.35,109.3 577.58,111.53 580.8,113.88 584.02,116.37 587.25,119 590.47,121.76 593.7,124.68 596.92,127.75 600.14,130.97 603.37,134.36 606.59,137.91 609.82,141.63 613.04,145.52 616.26,149.58 619.49,153.82 622.71,158.23 625.94,162.82 629.16,167.59 632.38,172.53 635.61,177.64 638.83,182.92 642.06,188.37 645.28,193.97 648.5,199.72 651.73,205.62 654.95,211.65 658.18,217.81 661.4,224.08 664.62,230.45 667.85,236.91 671.07,243.45 674.3,250.05 677.52,256.69 680.74,263.37 683.97,270.06 687.19,276.75 690.42,283.43 693.64,290.07 696.86,296.67 700.09,303.21 703.31,309.67 706.54,316.04 709.76,322.31 712.98,328.47 716.21,334.5 719.43,340.4 722.66,346.15 725.88,351.75 729.1,357.2 732.33,362.48 735.55,367.59 738.78,372.53 742,377.3 745.22,381.89 748.45,386.3 751.67,390.54 754.9,394.61 758.12,398.5 761.34,402.21 764.57,405.76 767.79,409.15 771.02,412.37 774.24,415.44 777.46,418.36 780.69,421.13 783.91,423.75 787.14,426.24 790.36,428.59 793.58,430.82 796.81,432.93 800.03,434.92 803.26,436.79 806.48,438.56 809.7,440.23 812.93,441.8 816.15,443.29 819.38,444.68 822.6,445.99 825.82,447.22 829.05,448.38 832.27,449.47 835.5,450.49 838.72,451.45 841.94,452.35 845.17,453.19 848.39,453.99 851.62,454.73 854.84,455.43 858.06,456.08 861.29,456.69 864.51,457.26 867.74,457.8 870.96,458.3 874.18,458.77 877.41,459.21 880.63,459.62 883.86,460.01 887.08,460.37 890.3,460.7 893.53,461.02 896.75,461.31 899.98,461.59 903.2,461.85" fill="none" stroke="#c8c8c8" stroke-width="2.8" stroke-dasharray="2.8 8.8" stroke-dashoffset="0"/>
<line x1="532.7" y1="52.2" x2="532.7" y2="472" stroke="#ff0000" stroke-width="2.7" stroke-dasharray="2.7 8.9"/>
<polyline points="258.4,76.47 261.62,76.59 264.85,76.72 268.07,76.85 271.3,77 274.52,77.15 277.74,77.31 280.97,77.49 284.19,77.67 287.42,77.87 290.64,78.08 293.86,78.3 297.09,78.53 300.31,78.79 303.54,79.05 306.76,79.34 309.98,79.64 313.21,79.96 316.43,80.3 319.66,80.66 322.88,81.04 326.1,81.45 329.33,81.89 332.55,82.35 335.78,82.83 339,83.35 342.22,83.9 345.45,84.49 348.67,85.11 351.9,85.77 355.12,86.46 358.34,87.2 361.57,87.99 364.79,88.82 368.02,89.7 371.24,90.63 374.46,91.62 377.69,92.67 380.91,93.77 384.14,94.94 387.36,96.18 390.58,97.49 393.81,98.87 397.03,100.33 400.26,101.87 403.48,103.5 406.7,105.21 409.93,107.02 413.15,108.92 416.38,110.92 419.6,113.03 422.82,115.24 426.05,117.57 429.27,120.01 432.5,122.57 435.72,125.25 438.94,128.06 442.17,131 445.39,134.07 448.62,137.27 451.84,140.61 455.06,144.09 458.29,147.72 461.51,151.48 464.74,155.39 467.96,159.44 471.18,163.63 474.41,167.97 477.63,172.44 480.86,177.05 484.08,181.8 487.3,186.68 490.53,191.69 493.75,196.82 496.98,202.06 500.2,207.42 503.42,212.87 506.65,218.42 509.87,224.06 513.1,229.77 516.32,235.55 519.54,241.39 522.77,247.27 525.99,253.19 529.22,259.12 532.44,265.07 535.66,271.03 538.89,276.96 542.11,282.88 545.34,288.76 548.56,294.6 551.78,300.38 555.01,306.09 558.23,311.73 561.46,317.28 564.68,322.73 567.9,328.09 571.13,333.33 574.35,338.46 577.58,343.47 580.8,348.35 584.02,353.1 587.25,357.71 590.47,362.18 593.7,366.52 596.92,370.71 600.14,374.76 603.37,378.67 606.59,382.43 609.82,386.05 613.04,389.54 616.26,392.88 619.49,396.08 622.71,399.15 625.94,402.09 629.16,404.9 632.38,407.58 635.61,410.14 638.83,412.58 642.06,414.91 645.28,417.12 648.5,419.23 651.73,421.23 654.95,423.13 658.18,424.94 661.4,426.65 664.62,428.28 667.85,429.82 671.07,431.28 674.3,432.66 677.52,433.97 680.74,435.21 683.97,436.38 687.19,437.48 690.42,438.53 693.64,439.52 696.86,440.45 700.09,441.33 703.31,442.16 706.54,442.95 709.76,443.69 712.98,444.38 716.21,445.04 719.43,445.66 722.66,446.25 725.88,446.8 729.1,447.32 732.33,447.8 735.55,448.26 738.78,448.7 742,449.11 745.22,449.49 748.45,449.85 751.67,450.19 754.9,450.51 758.12,450.81 761.34,451.1 764.57,451.36 767.79,451.61 771.02,451.85 774.24,452.07 777.46,452.28 780.69,452.48 783.91,452.66 787.14,452.84 790.36,453 793.58,453.15 796.81,453.3 800.03,453.43 803.26,453.56 806.48,453.68 809.7,453.79 812.93,453.9 816.15,454 819.38,454.09 822.6,454.18 825.82,454.26 829.05,454.34 832.27,454.41 835.5,454.48 838.72,454.55 841.94,454.61 845.17,454.66 848.39,454.72 851.62,454.77 854.84,454.82 858.06,454.86 861.29,454.9 864.51,454.94 867.74,454.98 870.96,455.01 874.18,455.04 877.41,455.08 880.63,455.1 883.86,455.13 887.08,455.16 890.3,455.18 893.53,455.2 896.75,455.22 899.98,455.24 903.2,455.26" fill="none" stroke="#ff0000" stroke-width="3"/>
<polyline points="258.4,79.3 290.8,79.3 322.8,85.4 354.8,82.1 419.1,99.5 483.1,184.3 550,297.7 646,408.3 742.4,446 902.5,460.6" fill="none" stroke="#000" stroke-width="3"/>
<line x1="419.6" y1="93" x2="419.6" y2="106" stroke="#000" stroke-width="3"/>
<line x1="484.08" y1="164.7" x2="484.08" y2="206.4" stroke="#000" stroke-width="3"/>
<line x1="548.56" y1="267.2" x2="548.56" y2="325.5" stroke="#000" stroke-width="3"/>
<line x1="645.28" y1="389" x2="645.28" y2="426.8" stroke="#000" stroke-width="3"/>
<line x1="742" y1="440" x2="742" y2="452" stroke="#000" stroke-width="3"/>
<polygon points="269.9,79.8 267.7,86.56 261.95,90.74 254.85,90.74 249.1,86.56 246.9,79.8 249.1,73.04 254.85,68.86 261.95,68.86 267.7,73.04" fill="#fff" stroke="#000" stroke-width="3"/>
<polygon points="302.3,79.8 300.1,86.56 294.35,90.74 287.25,90.74 281.5,86.56 279.3,79.8 281.5,73.04 287.25,68.86 294.35,68.86 300.1,73.04" fill="#fff" stroke="#000" stroke-width="3"/>
<polygon points="334.3,85.9 332.1,92.66 326.35,96.84 319.25,96.84 313.5,92.66 311.3,85.9 313.5,79.14 319.25,74.96 326.35,74.96 332.1,79.14" fill="#fff" stroke="#000" stroke-width="3"/>
<polygon points="366.3,82.6 364.1,89.36 358.35,93.54 351.25,93.54 345.5,89.36 343.3,82.6 345.5,75.84 351.25,71.66 358.35,71.66 364.1,75.84" fill="#fff" stroke="#000" stroke-width="3"/>
<polygon points="430.6,100 428.4,106.76 422.65,110.94 415.55,110.94 409.8,106.76 407.6,100 409.8,93.24 415.55,89.06 422.65,89.06 428.4,93.24" fill="#fff" stroke="#000" stroke-width="3"/>
<polygon points="494.6,184.8 492.4,191.56 486.65,195.74 479.55,195.74 473.8,191.56 471.6,184.8 473.8,178.04 479.55,173.86 486.65,173.86 492.4,178.04" fill="#fff" stroke="#000" stroke-width="3"/>
<polygon points="561.5,298.2 559.3,304.96 553.55,309.14 546.45,309.14 540.7,304.96 538.5,298.2 540.7,291.44 546.45,287.26 553.55,287.26 559.3,291.44" fill="#fff" stroke="#000" stroke-width="3"/>
<polygon points="657.5,408.8 655.3,415.56 649.55,419.74 642.45,419.74 636.7,415.56 634.5,408.8 636.7,402.04 642.45,397.86 649.55,397.86 655.3,402.04" fill="#fff" stroke="#000" stroke-width="3"/>
<polygon points="753.9,446.5 751.7,453.26 745.95,457.44 738.85,457.44 733.1,453.26 730.9,446.5 733.1,439.74 738.85,435.56 745.95,435.56 751.7,439.74" fill="#fff" stroke="#000" stroke-width="3"/>
<polygon points="914,461.1 911.8,467.86 906.05,472.04 898.95,472.04 893.2,467.86 891,461.1 893.2,454.34 898.95,450.16 906.05,450.16 911.8,454.34" fill="#fff" stroke="#000" stroke-width="3"/>
<line x1="97.4" y1="53.6" x2="97.4" y2="475" stroke="#000" stroke-width="3"/>
<line x1="96" y1="473.5" x2="937" y2="473.5" stroke="#000" stroke-width="3"/>
<line x1="97.4" y1="74.6" x2="107.2" y2="74.6" stroke="#000" stroke-width="3"/>
<line x1="97.4" y1="274.05" x2="107.2" y2="274.05" stroke="#000" stroke-width="3"/>
<line x1="97.4" y1="473.5" x2="107.2" y2="473.5" stroke="#000" stroke-width="3"/>
<line x1="258.4" y1="473.5" x2="258.4" y2="464" stroke="#000" stroke-width="3"/>
<line x1="290.64" y1="473.5" x2="290.64" y2="464" stroke="#000" stroke-width="3"/>
<line x1="322.88" y1="473.5" x2="322.88" y2="464" stroke="#000" stroke-width="3"/>
<line x1="355.12" y1="473.5" x2="355.12" y2="464" stroke="#000" stroke-width="3"/>
<line x1="419.6" y1="473.5" x2="419.6" y2="464" stroke="#000" stroke-width="3"/>
<line x1="484.08" y1="473.5" x2="484.08" y2="464" stroke="#000" stroke-width="3"/>
<line x1="548.56" y1="473.5" x2="548.56" y2="464" stroke="#000" stroke-width="3"/>
<line x1="645.28" y1="473.5" x2="645.28" y2="464" stroke="#000" stroke-width="3"/>
<line x1="742" y1="473.5" x2="742" y2="464" stroke="#000" stroke-width="3"/>
<line x1="903.2" y1="473.5" x2="903.2" y2="464" stroke="#000" stroke-width="3"/>
<text x="81.5" y="85.3" font-size="25" text-anchor="end">1</text>
<text x="81.5" y="283.5" font-size="25" text-anchor="end">0.5</text>
<text x="81.5" y="481" font-size="25" text-anchor="end">0</text>
<text x="287.2" y="510.4" font-size="25" text-anchor="middle">60</text>
<text x="350.9" y="510.4" font-size="25" text-anchor="middle">80</text>
<text x="418.4" y="510.4" font-size="25" text-anchor="middle">100</text>
<text x="485.8" y="510.4" font-size="25" text-anchor="middle">120</text>
<text x="549.3" y="510.4" font-size="25" text-anchor="middle">140</text>
<text x="646.3" y="510.4" font-size="25" text-anchor="middle">170</text>
<text x="742.3" y="510.4" font-size="25" text-anchor="middle">200</text>
<text x="902.8" y="510.4" font-size="25" text-anchor="middle">250</text>
<text x="516" y="551.5" font-size="25" text-anchor="middle">Frequency (Hz)</text>
<text x="428.9" y="35.2" font-size="25" text-anchor="middle">Discrete</text>
<text x="666.5" y="35.2" font-size="25" text-anchor="middle">Continuous</text>
<text transform="translate(21.2,262.2) rotate(-90)" font-size="24.9" text-anchor="middle">Discreteness (0–1)</text>
<text x="-1.2" y="23" font-size="41" font-weight="bold">a</text>
<polygon points="133.8,650.6 132.46,654.71 128.96,657.26 124.64,657.26 121.14,654.71 119.8,650.6 121.14,646.49 124.64,643.94 128.96,643.94 132.46,646.49" fill="none" stroke="#e3e3e3" stroke-width="3.4"/>
<polygon points="133.8,711.6 132.46,715.71 128.96,718.26 124.64,718.26 121.14,715.71 119.8,711.6 121.14,707.49 124.64,704.94 128.96,704.94 132.46,707.49" fill="none" stroke="#e3e3e3" stroke-width="3.4"/>
<polygon points="133.8,758.2 132.46,762.31 128.96,764.86 124.64,764.86 121.14,762.31 119.8,758.2 121.14,754.09 124.64,751.54 128.96,751.54 132.46,754.09" fill="none" stroke="#e3e3e3" stroke-width="3.4"/>
<polygon points="133.8,798.4 132.46,802.51 128.96,805.06 124.64,805.06 121.14,802.51 119.8,798.4 121.14,794.29 124.64,791.74 128.96,791.74 132.46,794.29" fill="none" stroke="#e3e3e3" stroke-width="3.4"/>
<polygon points="133.8,808 132.46,812.11 128.96,814.66 124.64,814.66 121.14,812.11 119.8,808 121.14,803.89 124.64,801.34 128.96,801.34 132.46,803.89" fill="none" stroke="#e3e3e3" stroke-width="3.4"/>
<polygon points="133.8,842.7 132.46,846.81 128.96,849.36 124.64,849.36 121.14,846.81 119.8,842.7 121.14,838.59 124.64,836.04 128.96,836.04 132.46,838.59" fill="none" stroke="#e3e3e3" stroke-width="3.4"/>
<polygon points="133.8,851.4 132.46,855.51 128.96,858.06 124.64,858.06 121.14,855.51 119.8,851.4 121.14,847.29 124.64,844.74 128.96,844.74 132.46,847.29" fill="none" stroke="#e3e3e3" stroke-width="3.4"/>
<polygon points="133.8,859.5 132.46,863.61 128.96,866.16 124.64,866.16 121.14,863.61 119.8,859.5 121.14,855.39 124.64,852.84 128.96,852.84 132.46,855.39" fill="none" stroke="#e3e3e3" stroke-width="3.4"/>
<polygon points="133.8,920.9 132.46,925.01 128.96,927.56 124.64,927.56 121.14,925.01 119.8,920.9 121.14,916.79 124.64,914.24 128.96,914.24 132.46,916.79" fill="none" stroke="#e3e3e3" stroke-width="3.4"/>
<polygon points="133.8,927.4 132.46,931.51 128.96,934.06 124.64,934.06 121.14,931.51 119.8,927.4 121.14,923.29 124.64,920.74 128.96,920.74 132.46,923.29" fill="none" stroke="#e3e3e3" stroke-width="3.4"/>
<polygon points="133.8,953.8 132.46,957.91 128.96,960.46 124.64,960.46 121.14,957.91 119.8,953.8 121.14,949.69 124.64,947.14 128.96,947.14 132.46,949.69" fill="none" stroke="#e3e3e3" stroke-width="3.4"/>
<polygon points="133.8,968.4 132.46,972.51 128.96,975.06 124.64,975.06 121.14,972.51 119.8,968.4 121.14,964.29 124.64,961.74 128.96,961.74 132.46,964.29" fill="none" stroke="#e3e3e3" stroke-width="3.4"/>
<polygon points="133.8,972 132.46,976.11 128.96,978.66 124.64,978.66 121.14,976.11 119.8,972 121.14,967.89 124.64,965.34 128.96,965.34 132.46,967.89" fill="none" stroke="#e3e3e3" stroke-width="3.4"/>
<polygon points="133.8,999.8 132.46,1003.91 128.96,1006.46 124.64,1006.46 121.14,1003.91 119.8,999.8 121.14,995.69 124.64,993.14 128.96,993.14 132.46,995.69" fill="none" stroke="#e3e3e3" stroke-width="3.4"/>
<polygon points="133.8,1037.8 132.46,1041.91 128.96,1044.46 124.64,1044.46 121.14,1041.91 119.8,1037.8 121.14,1033.69 124.64,1031.14 128.96,1031.14 132.46,1033.69" fill="none" stroke="#e3e3e3" stroke-width="3.4"/>
<polygon points="133.8,1052.4 132.46,1056.51 128.96,1059.06 124.64,1059.06 121.14,1056.51 119.8,1052.4 121.14,1048.29 124.64,1045.74 128.96,1045.74 132.46,1048.29" fill="none" stroke="#e3e3e3" stroke-width="3.4"/>
<polygon points="165.6,641.6 164.26,645.71 160.76,648.26 156.44,648.26 152.94,645.71 151.6,641.6 152.94,637.49 156.44,634.94 160.76,634.94 164.26,637.49" fill="none" stroke="#e3e3e3" stroke-width="3.4"/>
<polygon points="165.6,720 164.26,724.11 160.76,726.66 156.44,726.66 152.94,724.11 151.6,720 152.94,715.89 156.44,713.34 160.76,713.34 164.26,715.89" fill="none" stroke="#e3e3e3" stroke-width="3.4"/>
<polygon points="165.6,732.2 164.26,736.31 160.76,738.86 156.44,738.86 152.94,736.31 151.6,732.2 152.94,728.09 156.44,725.54 160.76,725.54 164.26,728.09" fill="none" stroke="#e3e3e3" stroke-width="3.4"/>
<polygon points="165.6,758.2 164.26,762.31 160.76,764.86 156.44,764.86 152.94,762.31 151.6,758.2 152.94,754.09 156.44,751.54 160.76,751.54 164.26,754.09" fill="none" stroke="#e3e3e3" stroke-width="3.4"/>
<polygon points="165.6,849.2 164.26,853.31 160.76,855.86 156.44,855.86 152.94,853.31 151.6,849.2 152.94,845.09 156.44,842.54 160.76,842.54 164.26,845.09" fill="none" stroke="#e3e3e3" stroke-width="3.4"/>
<polygon points="165.6,871.2 164.26,875.31 160.76,877.86 156.44,877.86 152.94,875.31 151.6,871.2 152.94,867.09 156.44,864.54 160.76,864.54 164.26,867.09" fill="none" stroke="#e3e3e3" stroke-width="3.4"/>
<polygon points="165.6,874.8 164.26,878.91 160.76,881.46 156.44,881.46 152.94,878.91 151.6,874.8 152.94,870.69 156.44,868.14 160.76,868.14 164.26,870.69" fill="none" stroke="#e3e3e3" stroke-width="3.4"/>
<polygon points="165.6,882.9 164.26,887.01 160.76,889.56 156.44,889.56 152.94,887.01 151.6,882.9 152.94,878.79 156.44,876.24 160.76,876.24 164.26,878.79" fill="none" stroke="#e3e3e3" stroke-width="3.4"/>
<polygon points="165.6,907 164.26,911.11 160.76,913.66 156.44,913.66 152.94,911.11 151.6,907 152.94,902.89 156.44,900.34 160.76,900.34 164.26,902.89" fill="none" stroke="#e3e3e3" stroke-width="3.4"/>
<polygon points="165.6,915.7 164.26,919.81 160.76,922.36 156.44,922.36 152.94,919.81 151.6,915.7 152.94,911.59 156.44,909.04 160.76,909.04 164.26,911.59" fill="none" stroke="#e3e3e3" stroke-width="3.4"/>
<polygon points="165.6,930.4 164.26,934.51 160.76,937.06 156.44,937.06 152.94,934.51 151.6,930.4 152.94,926.29 156.44,923.74 160.76,923.74 164.26,926.29" fill="none" stroke="#e3e3e3" stroke-width="3.4"/>
<polygon points="165.6,964.7 164.26,968.81 160.76,971.36 156.44,971.36 152.94,968.81 151.6,964.7 152.94,960.59 156.44,958.04 160.76,958.04 164.26,960.59" fill="none" stroke="#e3e3e3" stroke-width="3.4"/>
<polygon points="165.6,1005.6 164.26,1009.71 160.76,1012.26 156.44,1012.26 152.94,1009.71 151.6,1005.6 152.94,1001.49 156.44,998.94 160.76,998.94 164.26,1001.49" fill="none" stroke="#e3e3e3" stroke-width="3.4"/>
<polygon points="229.7,678.9 228.36,683.01 224.86,685.56 220.54,685.56 217.04,683.01 215.7,678.9 217.04,674.79 220.54,672.24 224.86,672.24 228.36,674.79" fill="none" stroke="#e3e3e3" stroke-width="3.4"/>
<polygon points="229.7,689.1 228.36,693.21 224.86,695.76 220.54,695.76 217.04,693.21 215.7,689.1 217.04,684.99 220.54,682.44 224.86,682.44 228.36,684.99" fill="none" stroke="#e3e3e3" stroke-width="3.4"/>
<polygon points="229.7,695.6 228.36,699.71 224.86,702.26 220.54,702.26 217.04,699.71 215.7,695.6 217.04,691.49 220.54,688.94 224.86,688.94 228.36,691.49" fill="none" stroke="#e3e3e3" stroke-width="3.4"/>
<polygon points="229.7,700.7 228.36,704.81 224.86,707.36 220.54,707.36 217.04,704.81 215.7,700.7 217.04,696.59 220.54,694.04 224.86,694.04 228.36,696.59" fill="none" stroke="#e3e3e3" stroke-width="3.4"/>
<polygon points="229.7,708.4 228.36,712.51 224.86,715.06 220.54,715.06 217.04,712.51 215.7,708.4 217.04,704.29 220.54,701.74 224.86,701.74 228.36,704.29" fill="none" stroke="#e3e3e3" stroke-width="3.4"/>
<polygon points="229.7,717.4 228.36,721.51 224.86,724.06 220.54,724.06 217.04,721.51 215.7,717.4 217.04,713.29 220.54,710.74 224.86,710.74 228.36,713.29" fill="none" stroke="#e3e3e3" stroke-width="3.4"/>
<polygon points="229.7,743.1 228.36,747.21 224.86,749.76 220.54,749.76 217.04,747.21 215.7,743.1 217.04,738.99 220.54,736.44 224.86,736.44 228.36,738.99" fill="none" stroke="#e3e3e3" stroke-width="3.4"/>
<polygon points="229.7,757.3 228.36,761.41 224.86,763.96 220.54,763.96 217.04,761.41 215.7,757.3 217.04,753.19 220.54,750.64 224.86,750.64 228.36,753.19" fill="none" stroke="#e3e3e3" stroke-width="3.4"/>
<polygon points="229.7,792 228.36,796.11 224.86,798.66 220.54,798.66 217.04,796.11 215.7,792 217.04,787.89 220.54,785.34 224.86,785.34 228.36,787.89" fill="none" stroke="#e3e3e3" stroke-width="3.4"/>
<polygon points="229.7,797.1 228.36,801.21 224.86,803.76 220.54,803.76 217.04,801.21 215.7,797.1 217.04,792.99 220.54,790.44 224.86,790.44 228.36,792.99" fill="none" stroke="#e3e3e3" stroke-width="3.4"/>
<polygon points="229.7,804.9 228.36,809.01 224.86,811.56 220.54,811.56 217.04,809.01 215.7,804.9 217.04,800.79 220.54,798.24 224.86,798.24 228.36,800.79" fill="none" stroke="#e3e3e3" stroke-width="3.4"/>
<polygon points="229.7,816.4 228.36,820.51 224.86,823.06 220.54,823.06 217.04,820.51 215.7,816.4 217.04,812.29 220.54,809.74 224.86,809.74 228.36,812.29" fill="none" stroke="#e3e3e3" stroke-width="3.4"/>
<polygon points="229.7,857.6 228.36,861.71 224.86,864.26 220.54,864.26 217.04,861.71 215.7,857.6 217.04,853.49 220.54,850.94 224.86,850.94 228.36,853.49" fill="none" stroke="#e3e3e3" stroke-width="3.4"/>
<polygon points="229.7,906.4 228.36,910.51 224.86,913.06 220.54,913.06 217.04,910.51 215.7,906.4 217.04,902.29 220.54,899.74 224.86,899.74 228.36,902.29" fill="none" stroke="#e3e3e3" stroke-width="3.4"/>
<polygon points="293.9,676.3 292.56,680.41 289.06,682.96 284.74,682.96 281.24,680.41 279.9,676.3 281.24,672.19 284.74,669.64 289.06,669.64 292.56,672.19" fill="none" stroke="#e3e3e3" stroke-width="3.4"/>
<polygon points="293.9,726.4 292.56,730.51 289.06,733.06 284.74,733.06 281.24,730.51 279.9,726.4 281.24,722.29 284.74,719.74 289.06,719.74 292.56,722.29" fill="none" stroke="#e3e3e3" stroke-width="3.4"/>
<polygon points="293.9,732.9 292.56,737.01 289.06,739.56 284.74,739.56 281.24,737.01 279.9,732.9 281.24,728.79 284.74,726.24 289.06,726.24 292.56,728.79" fill="none" stroke="#e3e3e3" stroke-width="3.4"/>
<polygon points="293.9,738 292.56,742.11 289.06,744.66 284.74,744.66 281.24,742.11 279.9,738 281.24,733.89 284.74,731.34 289.06,731.34 292.56,733.89" fill="none" stroke="#e3e3e3" stroke-width="3.4"/>
<polygon points="293.9,744.4 292.56,748.51 289.06,751.06 284.74,751.06 281.24,748.51 279.9,744.4 281.24,740.29 284.74,737.74 289.06,737.74 292.56,740.29" fill="none" stroke="#e3e3e3" stroke-width="3.4"/>
<polygon points="293.9,750.9 292.56,755.01 289.06,757.56 284.74,757.56 281.24,755.01 279.9,750.9 281.24,746.79 284.74,744.24 289.06,744.24 292.56,746.79" fill="none" stroke="#e3e3e3" stroke-width="3.4"/>
<polygon points="293.9,768.9 292.56,773.01 289.06,775.56 284.74,775.56 281.24,773.01 279.9,768.9 281.24,764.79 284.74,762.24 289.06,762.24 292.56,764.79" fill="none" stroke="#e3e3e3" stroke-width="3.4"/>
<polygon points="293.9,831.9 292.56,836.01 289.06,838.56 284.74,838.56 281.24,836.01 279.9,831.9 281.24,827.79 284.74,825.24 289.06,825.24 292.56,827.79" fill="none" stroke="#e3e3e3" stroke-width="3.4"/>
<polygon points="293.9,834.4 292.56,838.51 289.06,841.06 284.74,841.06 281.24,838.51 279.9,834.4 281.24,830.29 284.74,827.74 289.06,827.74 292.56,830.29" fill="none" stroke="#e3e3e3" stroke-width="3.4"/>
<polygon points="293.9,880.7 292.56,884.81 289.06,887.36 284.74,887.36 281.24,884.81 279.9,880.7 281.24,876.59 284.74,874.04 289.06,874.04 292.56,876.59" fill="none" stroke="#e3e3e3" stroke-width="3.4"/>
<polygon points="293.9,888.4 292.56,892.51 289.06,895.06 284.74,895.06 281.24,892.51 279.9,888.4 281.24,884.29 284.74,881.74 289.06,881.74 292.56,884.29" fill="none" stroke="#e3e3e3" stroke-width="3.4"/>
<polygon points="358.4,691.7 357.06,695.81 353.56,698.36 349.24,698.36 345.74,695.81 344.4,691.7 345.74,687.59 349.24,685.04 353.56,685.04 357.06,687.59" fill="none" stroke="#e3e3e3" stroke-width="3.4"/>
<polygon points="358.4,698.1 357.06,702.21 353.56,704.76 349.24,704.76 345.74,702.21 344.4,698.1 345.74,693.99 349.24,691.44 353.56,691.44 357.06,693.99" fill="none" stroke="#e3e3e3" stroke-width="3.4"/>
<polygon points="358.4,717.4 357.06,721.51 353.56,724.06 349.24,724.06 345.74,721.51 344.4,717.4 345.74,713.29 349.24,710.74 353.56,710.74 357.06,713.29" fill="none" stroke="#e3e3e3" stroke-width="3.4"/>
<polygon points="358.4,740.6 357.06,744.71 353.56,747.26 349.24,747.26 345.74,744.71 344.4,740.6 345.74,736.49 349.24,733.94 353.56,733.94 357.06,736.49" fill="none" stroke="#e3e3e3" stroke-width="3.4"/>
<polygon points="358.4,770.1 357.06,774.21 353.56,776.76 349.24,776.76 345.74,774.21 344.4,770.1 345.74,765.99 349.24,763.44 353.56,763.44 357.06,765.99" fill="none" stroke="#e3e3e3" stroke-width="3.4"/>
<polygon points="358.4,772.7 357.06,776.81 353.56,779.36 349.24,779.36 345.74,776.81 344.4,772.7 345.74,768.59 349.24,766.04 353.56,766.04 357.06,768.59" fill="none" stroke="#e3e3e3" stroke-width="3.4"/>
<polygon points="358.4,825.4 357.06,829.51 353.56,832.06 349.24,832.06 345.74,829.51 344.4,825.4 345.74,821.29 349.24,818.74 353.56,818.74 357.06,821.29" fill="none" stroke="#e3e3e3" stroke-width="3.4"/>
<polygon points="358.4,839.6 357.06,843.71 353.56,846.26 349.24,846.26 345.74,843.71 344.4,839.6 345.74,835.49 349.24,832.94 353.56,832.94 357.06,835.49" fill="none" stroke="#e3e3e3" stroke-width="3.4"/>
<polygon points="358.4,851.1 357.06,855.21 353.56,857.76 349.24,857.76 345.74,855.21 344.4,851.1 345.74,846.99 349.24,844.44 353.56,844.44 357.06,846.99" fill="none" stroke="#e3e3e3" stroke-width="3.4"/>
<polygon points="358.4,861.4 357.06,865.51 353.56,868.06 349.24,868.06 345.74,865.51 344.4,861.4 345.74,857.29 349.24,854.74 353.56,854.74 357.06,857.29" fill="none" stroke="#e3e3e3" stroke-width="3.4"/>
<polygon points="358.4,879.4 357.06,883.51 353.56,886.06 349.24,886.06 345.74,883.51 344.4,879.4 345.74,875.29 349.24,872.74 353.56,872.74 357.06,875.29" fill="none" stroke="#e3e3e3" stroke-width="3.4"/>
<polygon points="358.4,887.1 357.06,891.21 353.56,893.76 349.24,893.76 345.74,891.21 344.4,887.1 345.74,882.99 349.24,880.44 353.56,880.44 357.06,882.99" fill="none" stroke="#e3e3e3" stroke-width="3.4"/>
<polygon points="358.4,927 357.06,931.11 353.56,933.66 349.24,933.66 345.74,931.11 344.4,927 345.74,922.89 349.24,920.34 353.56,920.34 357.06,922.89" fill="none" stroke="#e3e3e3" stroke-width="3.4"/>
<polygon points="422.1,705.9 420.76,710.01 417.26,712.56 412.94,712.56 409.44,710.01 408.1,705.9 409.44,701.79 412.94,699.24 417.26,699.24 420.76,701.79" fill="none" stroke="#e3e3e3" stroke-width="3.4"/>
<polygon points="422.1,745.7 420.76,749.81 417.26,752.36 412.94,752.36 409.44,749.81 408.1,745.7 409.44,741.59 412.94,739.04 417.26,739.04 420.76,741.59" fill="none" stroke="#e3e3e3" stroke-width="3.4"/>
<polygon points="422.1,761.1 420.76,765.21 417.26,767.76 412.94,767.76 409.44,765.21 408.1,761.1 409.44,756.99 412.94,754.44 417.26,754.44 420.76,756.99" fill="none" stroke="#e3e3e3" stroke-width="3.4"/>
<polygon points="422.1,770.1 420.76,774.21 417.26,776.76 412.94,776.76 409.44,774.21 408.1,770.1 409.44,765.99 412.94,763.44 417.26,763.44 420.76,765.99" fill="none" stroke="#e3e3e3" stroke-width="3.4"/>
<polygon points="422.1,775.3 420.76,779.41 417.26,781.96 412.94,781.96 409.44,779.41 408.1,775.3 409.44,771.19 412.94,768.64 417.26,768.64 420.76,771.19" fill="none" stroke="#e3e3e3" stroke-width="3.4"/>
<polygon points="422.1,789.4 420.76,793.51 417.26,796.06 412.94,796.06 409.44,793.51 408.1,789.4 409.44,785.29 412.94,782.74 417.26,782.74 420.76,785.29" fill="none" stroke="#e3e3e3" stroke-width="3.4"/>
<polygon points="422.1,840.9 420.76,845.01 417.26,847.56 412.94,847.56 409.44,845.01 408.1,840.9 409.44,836.79 412.94,834.24 417.26,834.24 420.76,836.79" fill="none" stroke="#e3e3e3" stroke-width="3.4"/>
<polygon points="422.1,856.3 420.76,860.41 417.26,862.96 412.94,862.96 409.44,860.41 408.1,856.3 409.44,852.19 412.94,849.64 417.26,849.64 420.76,852.19" fill="none" stroke="#e3e3e3" stroke-width="3.4"/>
<polygon points="422.1,887.1 420.76,891.21 417.26,893.76 412.94,893.76 409.44,891.21 408.1,887.1 409.44,882.99 412.94,880.44 417.26,880.44 420.76,882.99" fill="none" stroke="#e3e3e3" stroke-width="3.4"/>
<polygon points="422.1,897.4 420.76,901.51 417.26,904.06 412.94,904.06 409.44,901.51 408.1,897.4 409.44,893.29 412.94,890.74 417.26,890.74 420.76,893.29" fill="none" stroke="#e3e3e3" stroke-width="3.4"/>
<polygon points="422.1,942.4 420.76,946.51 417.26,949.06 412.94,949.06 409.44,946.51 408.1,942.4 409.44,938.29 412.94,935.74 417.26,935.74 420.76,938.29" fill="none" stroke="#e3e3e3" stroke-width="3.4"/>
<polygon points="486.4,740.6 485.06,744.71 481.56,747.26 477.24,747.26 473.74,744.71 472.4,740.6 473.74,736.49 477.24,733.94 481.56,733.94 485.06,736.49" fill="none" stroke="#e3e3e3" stroke-width="3.4"/>
<polygon points="486.4,747 485.06,751.11 481.56,753.66 477.24,753.66 473.74,751.11 472.4,747 473.74,742.89 477.24,740.34 481.56,740.34 485.06,742.89" fill="none" stroke="#e3e3e3" stroke-width="3.4"/>
<polygon points="486.4,761.1 485.06,765.21 481.56,767.76 477.24,767.76 473.74,765.21 472.4,761.1 473.74,756.99 477.24,754.44 481.56,754.44 485.06,756.99" fill="none" stroke="#e3e3e3" stroke-width="3.4"/>
<polygon points="486.4,799.7 485.06,803.81 481.56,806.36 477.24,806.36 473.74,803.81 472.4,799.7 473.74,795.59 477.24,793.04 481.56,793.04 485.06,795.59" fill="none" stroke="#e3e3e3" stroke-width="3.4"/>
<polygon points="486.4,807.4 485.06,811.51 481.56,814.06 477.24,814.06 473.74,811.51 472.4,807.4 473.74,803.29 477.24,800.74 481.56,800.74 485.06,803.29" fill="none" stroke="#e3e3e3" stroke-width="3.4"/>
<polygon points="486.4,815.1 485.06,819.21 481.56,821.76 477.24,821.76 473.74,819.21 472.4,815.1 473.74,810.99 477.24,808.44 481.56,808.44 485.06,810.99" fill="none" stroke="#e3e3e3" stroke-width="3.4"/>
<polygon points="486.4,860.1 485.06,864.21 481.56,866.76 477.24,866.76 473.74,864.21 472.4,860.1 473.74,855.99 477.24,853.44 481.56,853.44 485.06,855.99" fill="none" stroke="#e3e3e3" stroke-width="3.4"/>
<polygon points="486.4,897.4 485.06,901.51 481.56,904.06 477.24,904.06 473.74,901.51 472.4,897.4 473.74,893.29 477.24,890.74 481.56,890.74 485.06,893.29" fill="none" stroke="#e3e3e3" stroke-width="3.4"/>
<polygon points="486.4,912.8 485.06,916.91 481.56,919.46 477.24,919.46 473.74,916.91 472.4,912.8 473.74,908.69 477.24,906.14 481.56,906.14 485.06,908.69" fill="none" stroke="#e3e3e3" stroke-width="3.4"/>
<polygon points="486.4,919.3 485.06,923.41 481.56,925.96 477.24,925.96 473.74,923.41 472.4,919.3 473.74,915.19 477.24,912.64 481.56,912.64 485.06,915.19" fill="none" stroke="#e3e3e3" stroke-width="3.4"/>
<polygon points="486.4,925.7 485.06,929.81 481.56,932.36 477.24,932.36 473.74,929.81 472.4,925.7 473.74,921.59 477.24,919.04 481.56,919.04 485.06,921.59" fill="none" stroke="#e3e3e3" stroke-width="3.4"/>
<polygon points="553,762.4 551.66,766.51 548.16,769.06 543.84,769.06 540.34,766.51 539,762.4 540.34,758.29 543.84,755.74 548.16,755.74 551.66,758.29" fill="none" stroke="#e3e3e3" stroke-width="3.4"/>
<polygon points="553,766.3 551.66,770.41 548.16,772.96 543.84,772.96 540.34,770.41 539,766.3 540.34,762.19 543.84,759.64 548.16,759.64 551.66,762.19" fill="none" stroke="#e3e3e3" stroke-width="3.4"/>
<polygon points="553,775.3 551.66,779.41 548.16,781.96 543.84,781.96 540.34,779.41 539,775.3 540.34,771.19 543.84,768.64 548.16,768.64 551.66,771.19" fill="none" stroke="#e3e3e3" stroke-width="3.4"/>
<polygon points="553,786.9 551.66,791.01 548.16,793.56 543.84,793.56 540.34,791.01 539,786.9 540.34,782.79 543.84,780.24 548.16,780.24 551.66,782.79" fill="none" stroke="#e3e3e3" stroke-width="3.4"/>
<polygon points="553,810 551.66,814.11 548.16,816.66 543.84,816.66 540.34,814.11 539,810 540.34,805.89 543.84,803.34 548.16,803.34 551.66,805.89" fill="none" stroke="#e3e3e3" stroke-width="3.4"/>
<polygon points="553,821.6 551.66,825.71 548.16,828.26 543.84,828.26 540.34,825.71 539,821.6 540.34,817.49 543.84,814.94 548.16,814.94 551.66,817.49" fill="none" stroke="#e3e3e3" stroke-width="3.4"/>
<polygon points="553,848.6 551.66,852.71 548.16,855.26 543.84,855.26 540.34,852.71 539,848.6 540.34,844.49 543.84,841.94 548.16,841.94 551.66,844.49" fill="none" stroke="#e3e3e3" stroke-width="3.4"/>
<polygon points="553,874.3 551.66,878.41 548.16,880.96 543.84,880.96 540.34,878.41 539,874.3 540.34,870.19 543.84,867.64 548.16,867.64 551.66,870.19" fill="none" stroke="#e3e3e3" stroke-width="3.4"/>
<polygon points="553,885.8 551.66,889.91 548.16,892.46 543.84,892.46 540.34,889.91 539,885.8 540.34,881.69 543.84,879.14 548.16,879.14 551.66,881.69" fill="none" stroke="#e3e3e3" stroke-width="3.4"/>
<polygon points="553,909 551.66,913.11 548.16,915.66 543.84,915.66 540.34,913.11 539,909 540.34,904.89 543.84,902.34 548.16,902.34 551.66,904.89" fill="none" stroke="#e3e3e3" stroke-width="3.4"/>
<polygon points="553,911.6 551.66,915.71 548.16,918.26 543.84,918.26 540.34,915.71 539,911.6 540.34,907.49 543.84,904.94 548.16,904.94 551.66,907.49" fill="none" stroke="#e3e3e3" stroke-width="3.4"/>
<polygon points="553,1008 551.66,1012.11 548.16,1014.66 543.84,1014.66 540.34,1012.11 539,1008 540.34,1003.89 543.84,1001.34 548.16,1001.34 551.66,1003.89" fill="none" stroke="#e3e3e3" stroke-width="3.4"/>
<polygon points="648.9,739.3 647.56,743.41 644.06,745.96 639.74,745.96 636.24,743.41 634.9,739.3 636.24,735.19 639.74,732.64 644.06,732.64 647.56,735.19" fill="none" stroke="#e3e3e3" stroke-width="3.4"/>
<polygon points="648.9,745.7 647.56,749.81 644.06,752.36 639.74,752.36 636.24,749.81 634.9,745.7 636.24,741.59 639.74,739.04 644.06,739.04 647.56,741.59" fill="none" stroke="#e3e3e3" stroke-width="3.4"/>
<polygon points="648.9,768.9 647.56,773.01 644.06,775.56 639.74,775.56 636.24,773.01 634.9,768.9 636.24,764.79 639.74,762.24 644.06,762.24 647.56,764.79" fill="none" stroke="#e3e3e3" stroke-width="3.4"/>
<polygon points="648.9,771.4 647.56,775.51 644.06,778.06 639.74,778.06 636.24,775.51 634.9,771.4 636.24,767.29 639.74,764.74 644.06,764.74 647.56,767.29" fill="none" stroke="#e3e3e3" stroke-width="3.4"/>
<polygon points="648.9,790.7 647.56,794.81 644.06,797.36 639.74,797.36 636.24,794.81 634.9,790.7 636.24,786.59 639.74,784.04 644.06,784.04 647.56,786.59" fill="none" stroke="#e3e3e3" stroke-width="3.4"/>
<polygon points="648.9,801 647.56,805.11 644.06,807.66 639.74,807.66 636.24,805.11 634.9,801 636.24,796.89 639.74,794.34 644.06,794.34 647.56,796.89" fill="none" stroke="#e3e3e3" stroke-width="3.4"/>
<polygon points="648.9,843.4 647.56,847.51 644.06,850.06 639.74,850.06 636.24,847.51 634.9,843.4 636.24,839.29 639.74,836.74 644.06,836.74 647.56,839.29" fill="none" stroke="#e3e3e3" stroke-width="3.4"/>
<polygon points="648.9,873 647.56,877.11 644.06,879.66 639.74,879.66 636.24,877.11 634.9,873 636.24,868.89 639.74,866.34 644.06,866.34 647.56,868.89" fill="none" stroke="#e3e3e3" stroke-width="3.4"/>
<polygon points="648.9,880.7 647.56,884.81 644.06,887.36 639.74,887.36 636.24,884.81 634.9,880.7 636.24,876.59 639.74,874.04 644.06,874.04 647.56,876.59" fill="none" stroke="#e3e3e3" stroke-width="3.4"/>
<polygon points="648.9,887.1 647.56,891.21 644.06,893.76 639.74,893.76 636.24,891.21 634.9,887.1 636.24,882.99 639.74,880.44 644.06,880.44 647.56,882.99" fill="none" stroke="#e3e3e3" stroke-width="3.4"/>
<polygon points="648.9,915.4 647.56,919.51 644.06,922.06 639.74,922.06 636.24,919.51 634.9,915.4 636.24,911.29 639.74,908.74 644.06,908.74 647.56,911.29" fill="none" stroke="#e3e3e3" stroke-width="3.4"/>
<polygon points="648.9,1008 647.56,1012.11 644.06,1014.66 639.74,1014.66 636.24,1012.11 634.9,1008 636.24,1003.89 639.74,1001.34 644.06,1001.34 647.56,1003.89" fill="none" stroke="#e3e3e3" stroke-width="3.4"/>
<polygon points="745.2,722.6 743.86,726.71 740.36,729.26 736.04,729.26 732.54,726.71 731.2,722.6 732.54,718.49 736.04,715.94 740.36,715.94 743.86,718.49" fill="none" stroke="#e3e3e3" stroke-width="3.4"/>
<polygon points="745.2,738 743.86,742.11 740.36,744.66 736.04,744.66 732.54,742.11 731.2,738 732.54,733.89 736.04,731.34 740.36,731.34 743.86,733.89" fill="none" stroke="#e3e3e3" stroke-width="3.4"/>
<polygon points="745.2,752.1 743.86,756.21 740.36,758.76 736.04,758.76 732.54,756.21 731.2,752.1 732.54,747.99 736.04,745.44 740.36,745.44 743.86,747.99" fill="none" stroke="#e3e3e3" stroke-width="3.4"/>
<polygon points="745.2,766.3 743.86,770.41 740.36,772.96 736.04,772.96 732.54,770.41 731.2,766.3 732.54,762.19 736.04,759.64 740.36,759.64 743.86,762.19" fill="none" stroke="#e3e3e3" stroke-width="3.4"/>
<polygon points="745.2,774 743.86,778.11 740.36,780.66 736.04,780.66 732.54,778.11 731.2,774 732.54,769.89 736.04,767.34 740.36,767.34 743.86,769.89" fill="none" stroke="#e3e3e3" stroke-width="3.4"/>
<polygon points="745.2,786.9 743.86,791.01 740.36,793.56 736.04,793.56 732.54,791.01 731.2,786.9 732.54,782.79 736.04,780.24 740.36,780.24 743.86,782.79" fill="none" stroke="#e3e3e3" stroke-width="3.4"/>
<polygon points="745.2,799.7 743.86,803.81 740.36,806.36 736.04,806.36 732.54,803.81 731.2,799.7 732.54,795.59 736.04,793.04 740.36,793.04 743.86,795.59" fill="none" stroke="#e3e3e3" stroke-width="3.4"/>
<polygon points="745.2,833.1 743.86,837.21 740.36,839.76 736.04,839.76 732.54,837.21 731.2,833.1 732.54,828.99 736.04,826.44 740.36,826.44 743.86,828.99" fill="none" stroke="#e3e3e3" stroke-width="3.4"/>
<polygon points="745.2,840.9 743.86,845.01 740.36,847.56 736.04,847.56 732.54,845.01 731.2,840.9 732.54,836.79 736.04,834.24 740.36,834.24 743.86,836.79" fill="none" stroke="#e3e3e3" stroke-width="3.4"/>
<polygon points="745.2,857.6 743.86,861.71 740.36,864.26 736.04,864.26 732.54,861.71 731.2,857.6 732.54,853.49 736.04,850.94 740.36,850.94 743.86,853.49" fill="none" stroke="#e3e3e3" stroke-width="3.4"/>
<polygon points="745.2,892.3 743.86,896.41 740.36,898.96 736.04,898.96 732.54,896.41 731.2,892.3 732.54,888.19 736.04,885.64 740.36,885.64 743.86,888.19" fill="none" stroke="#e3e3e3" stroke-width="3.4"/>
<polygon points="745.2,950.1 743.86,954.21 740.36,956.76 736.04,956.76 732.54,954.21 731.2,950.1 732.54,945.99 736.04,943.44 740.36,943.44 743.86,945.99" fill="none" stroke="#e3e3e3" stroke-width="3.4"/>
<polygon points="745.2,1023.4 743.86,1027.51 740.36,1030.06 736.04,1030.06 732.54,1027.51 731.2,1023.4 732.54,1019.29 736.04,1016.74 740.36,1016.74 743.86,1019.29" fill="none" stroke="#e3e3e3" stroke-width="3.4"/>
<polygon points="905.4,690.4 904.06,694.51 900.56,697.06 896.24,697.06 892.74,694.51 891.4,690.4 892.74,686.29 896.24,683.74 900.56,683.74 904.06,686.29" fill="none" stroke="#e3e3e3" stroke-width="3.4"/>
<polygon points="905.4,695.6 904.06,699.71 900.56,702.26 896.24,702.26 892.74,699.71 891.4,695.6 892.74,691.49 896.24,688.94 900.56,688.94 904.06,691.49" fill="none" stroke="#e3e3e3" stroke-width="3.4"/>
<polygon points="905.4,717.4 904.06,721.51 900.56,724.06 896.24,724.06 892.74,721.51 891.4,717.4 892.74,713.29 896.24,710.74 900.56,710.74 904.06,713.29" fill="none" stroke="#e3e3e3" stroke-width="3.4"/>
<polygon points="905.4,722.6 904.06,726.71 900.56,729.26 896.24,729.26 892.74,726.71 891.4,722.6 892.74,718.49 896.24,715.94 900.56,715.94 904.06,718.49" fill="none" stroke="#e3e3e3" stroke-width="3.4"/>
<polygon points="905.4,735.4 904.06,739.51 900.56,742.06 896.24,742.06 892.74,739.51 891.4,735.4 892.74,731.29 896.24,728.74 900.56,728.74 904.06,731.29" fill="none" stroke="#e3e3e3" stroke-width="3.4"/>
<polygon points="905.4,745.7 904.06,749.81 900.56,752.36 896.24,752.36 892.74,749.81 891.4,745.7 892.74,741.59 896.24,739.04 900.56,739.04 904.06,741.59" fill="none" stroke="#e3e3e3" stroke-width="3.4"/>
<polygon points="905.4,756 904.06,760.11 900.56,762.66 896.24,762.66 892.74,760.11 891.4,756 892.74,751.89 896.24,749.34 900.56,749.34 904.06,751.89" fill="none" stroke="#e3e3e3" stroke-width="3.4"/>
<polygon points="905.4,810 904.06,814.11 900.56,816.66 896.24,816.66 892.74,814.11 891.4,810 892.74,805.89 896.24,803.34 900.56,803.34 904.06,805.89" fill="none" stroke="#e3e3e3" stroke-width="3.4"/>
<polygon points="905.4,834.4 904.06,838.51 900.56,841.06 896.24,841.06 892.74,838.51 891.4,834.4 892.74,830.29 896.24,827.74 900.56,827.74 904.06,830.29" fill="none" stroke="#e3e3e3" stroke-width="3.4"/>
<polygon points="905.4,844.7 904.06,848.81 900.56,851.36 896.24,851.36 892.74,848.81 891.4,844.7 892.74,840.59 896.24,838.04 900.56,838.04 904.06,840.59" fill="none" stroke="#e3e3e3" stroke-width="3.4"/>
<polygon points="905.4,918 904.06,922.11 900.56,924.66 896.24,924.66 892.74,922.11 891.4,918 892.74,913.89 896.24,911.34 900.56,911.34 904.06,913.89" fill="none" stroke="#e3e3e3" stroke-width="3.4"/>
<polygon points="905.4,964.3 904.06,968.41 900.56,970.96 896.24,970.96 892.74,968.41 891.4,964.3 892.74,960.19 896.24,957.64 900.56,957.64 904.06,960.19" fill="none" stroke="#e3e3e3" stroke-width="3.4"/>
<polygon points="905.4,979.7 904.06,983.81 900.56,986.36 896.24,986.36 892.74,983.81 891.4,979.7 892.74,975.59 896.24,973.04 900.56,973.04 904.06,975.59" fill="none" stroke="#e3e3e3" stroke-width="3.4"/>
<line x1="127" y1="895.7" x2="900" y2="792.1" stroke="#ff0000" stroke-width="3" stroke-dasharray="3 8.6"/>
<line x1="115.3" y1="895.3" x2="138.3" y2="895.3" stroke="#ff0000" stroke-width="3"/>
<line x1="126.8" y1="883.8" x2="126.8" y2="906.8" stroke="#ff0000" stroke-width="3"/>
<line x1="147.1" y1="889.4" x2="170.1" y2="889.4" stroke="#ff0000" stroke-width="3"/>
<line x1="158.6" y1="877.9" x2="158.6" y2="900.9" stroke="#ff0000" stroke-width="3"/>
<line x1="211.2" y1="880.7" x2="234.2" y2="880.7" stroke="#ff0000" stroke-width="3"/>
<line x1="222.7" y1="869.2" x2="222.7" y2="892.2" stroke="#ff0000" stroke-width="3"/>
<line x1="275.4" y1="872.3" x2="298.4" y2="872.3" stroke="#ff0000" stroke-width="3"/>
<line x1="286.9" y1="860.8" x2="286.9" y2="883.8" stroke="#ff0000" stroke-width="3"/>
<line x1="339.9" y1="865.5" x2="362.9" y2="865.5" stroke="#ff0000" stroke-width="3"/>
<line x1="351.4" y1="854" x2="351.4" y2="877" stroke="#ff0000" stroke-width="3"/>
<line x1="403.6" y1="857.6" x2="426.6" y2="857.6" stroke="#ff0000" stroke-width="3"/>
<line x1="415.1" y1="846.1" x2="415.1" y2="869.1" stroke="#ff0000" stroke-width="3"/>
<line x1="467.9" y1="849.8" x2="490.9" y2="849.8" stroke="#ff0000" stroke-width="3"/>
<line x1="479.4" y1="838.3" x2="479.4" y2="861.3" stroke="#ff0000" stroke-width="3"/>
<polyline points="126.8,883.4 158.6,834 222.7,772.6 286.9,787.7 351.4,804.6 415.1,822 479.4,830.7 546,839.5 641.9,821.8 738.2,819 898.4,793.2" fill="none" stroke="#000" stroke-width="3"/>
<line x1="125.6" y1="851.9" x2="125.6" y2="912.8" stroke="#000" stroke-width="3"/>
<line x1="158.1" y1="807.4" x2="158.1" y2="861.7" stroke="#000" stroke-width="3"/>
<line x1="222.4" y1="756.4" x2="222.4" y2="790" stroke="#000" stroke-width="3"/>
<line x1="287.1" y1="771.5" x2="287.1" y2="803.4" stroke="#000" stroke-width="3"/>
<line x1="351.5" y1="785.8" x2="351.5" y2="823.8" stroke="#000" stroke-width="3"/>
<line x1="415.8" y1="805.5" x2="415.8" y2="835.9" stroke="#000" stroke-width="3"/>
<line x1="480.5" y1="814.2" x2="480.5" y2="844" stroke="#000" stroke-width="3"/>
<line x1="545" y1="821.4" x2="545" y2="856.8" stroke="#000" stroke-width="3"/>
<line x1="642.2" y1="802.6" x2="642.2" y2="841.7" stroke="#000" stroke-width="3"/>
<line x1="738.8" y1="796.8" x2="738.8" y2="839.9" stroke="#000" stroke-width="3"/>
<line x1="900.4" y1="769" x2="900.4" y2="819" stroke="#000" stroke-width="3"/>
<polygon points="139.7,883.4 137.24,890.98 130.79,895.67 122.81,895.67 116.36,890.98 113.9,883.4 116.36,875.82 122.81,871.13 130.79,871.13 137.24,875.82" fill="#fff" stroke="#000" stroke-width="3"/>
<polygon points="171.5,834 169.04,841.58 162.59,846.27 154.61,846.27 148.16,841.58 145.7,834 148.16,826.42 154.61,821.73 162.59,821.73 169.04,826.42" fill="#fff" stroke="#000" stroke-width="3"/>
<polygon points="235.6,772.6 233.14,780.18 226.69,784.87 218.71,784.87 212.26,780.18 209.8,772.6 212.26,765.02 218.71,760.33 226.69,760.33 233.14,765.02" fill="#fff" stroke="#000" stroke-width="3"/>
<polygon points="299.8,787.7 297.34,795.28 290.89,799.97 282.91,799.97 276.46,795.28 274,787.7 276.46,780.12 282.91,775.43 290.89,775.43 297.34,780.12" fill="#fff" stroke="#000" stroke-width="3"/>
<polygon points="364.3,804.6 361.84,812.18 355.39,816.87 347.41,816.87 340.96,812.18 338.5,804.6 340.96,797.02 347.41,792.33 355.39,792.33 361.84,797.02" fill="#fff" stroke="#000" stroke-width="3"/>
<polygon points="428,822 425.54,829.58 419.09,834.27 411.11,834.27 404.66,829.58 402.2,822 404.66,814.42 411.11,809.73 419.09,809.73 425.54,814.42" fill="#fff" stroke="#000" stroke-width="3"/>
<polygon points="492.3,830.7 489.84,838.28 483.39,842.97 475.41,842.97 468.96,838.28 466.5,830.7 468.96,823.12 475.41,818.43 483.39,818.43 489.84,823.12" fill="#fff" stroke="#000" stroke-width="3"/>
<polygon points="558.9,839.5 556.44,847.08 549.99,851.77 542.01,851.77 535.56,847.08 533.1,839.5 535.56,831.92 542.01,827.23 549.99,827.23 556.44,831.92" fill="#fff" stroke="#000" stroke-width="3"/>
<polygon points="654.8,821.8 652.34,829.38 645.89,834.07 637.91,834.07 631.46,829.38 629,821.8 631.46,814.22 637.91,809.53 645.89,809.53 652.34,814.22" fill="#fff" stroke="#000" stroke-width="3"/>
<polygon points="751.1,819 748.64,826.58 742.19,831.27 734.21,831.27 727.76,826.58 725.3,819 727.76,811.42 734.21,806.73 742.19,806.73 748.64,811.42" fill="#fff" stroke="#000" stroke-width="3"/>
<polygon points="911.3,793.2 908.84,800.78 902.39,805.47 894.41,805.47 887.96,800.78 885.5,793.2 887.96,785.62 894.41,780.93 902.39,780.93 908.84,785.62" fill="#fff" stroke="#000" stroke-width="3"/>
<line x1="93.9" y1="642.4" x2="93.9" y2="1063.5" stroke="#000" stroke-width="3"/>
<line x1="92.4" y1="1062" x2="933" y2="1062" stroke="#000" stroke-width="3"/>
<line x1="93.9" y1="1062" x2="103.4" y2="1062" stroke="#000" stroke-width="3"/>
<line x1="93.9" y1="1009.75" x2="103.4" y2="1009.75" stroke="#000" stroke-width="3"/>
<line x1="93.9" y1="957.5" x2="103.4" y2="957.5" stroke="#000" stroke-width="3"/>
<line x1="93.9" y1="905.25" x2="103.4" y2="905.25" stroke="#000" stroke-width="3"/>
<line x1="93.9" y1="853" x2="103.4" y2="853" stroke="#000" stroke-width="3"/>
<line x1="93.9" y1="800.75" x2="103.4" y2="800.75" stroke="#000" stroke-width="3"/>
<line x1="93.9" y1="748.5" x2="103.4" y2="748.5" stroke="#000" stroke-width="3"/>
<line x1="93.9" y1="696.25" x2="103.4" y2="696.25" stroke="#000" stroke-width="3"/>
<line x1="93.9" y1="644" x2="103.4" y2="644" stroke="#000" stroke-width="3"/>
<line x1="125.6" y1="1062" x2="125.6" y2="1052.5" stroke="#000" stroke-width="3"/>
<line x1="158.1" y1="1062" x2="158.1" y2="1052.5" stroke="#000" stroke-width="3"/>
<line x1="222.4" y1="1062" x2="222.4" y2="1052.5" stroke="#000" stroke-width="3"/>
<line x1="287.1" y1="1062" x2="287.1" y2="1052.5" stroke="#000" stroke-width="3"/>
<line x1="351.5" y1="1062" x2="351.5" y2="1052.5" stroke="#000" stroke-width="3"/>
<line x1="415.8" y1="1062" x2="415.8" y2="1052.5" stroke="#000" stroke-width="3"/>
<line x1="480.5" y1="1062" x2="480.5" y2="1052.5" stroke="#000" stroke-width="3"/>
<line x1="545" y1="1062" x2="545" y2="1052.5" stroke="#000" stroke-width="3"/>
<line x1="642.2" y1="1062" x2="642.2" y2="1052.5" stroke="#000" stroke-width="3"/>
<line x1="738.8" y1="1062" x2="738.8" y2="1052.5" stroke="#000" stroke-width="3"/>
<line x1="900.4" y1="1062" x2="900.4" y2="1052.5" stroke="#000" stroke-width="3"/>
<text x="76.5" y="1070.5" font-size="25" text-anchor="end">1</text>
<text x="76.5" y="966" font-size="25" text-anchor="end">2</text>
<text x="76.5" y="861.5" font-size="25" text-anchor="end">3</text>
<text x="76.5" y="757" font-size="25" text-anchor="end">4</text>
<text x="76.5" y="652.5" font-size="25" text-anchor="end">5</text>
<text x="122.5" y="1100.3" font-size="25" text-anchor="middle">10</text>
<text x="161" y="1100.3" font-size="25" text-anchor="middle">20</text>
<text x="218.6" y="1100.3" font-size="25" text-anchor="middle">40</text>
<text x="284.7" y="1100.3" font-size="25" text-anchor="middle">60</text>
<text x="347.1" y="1100.3" font-size="25" text-anchor="middle">80</text>
<text x="414.8" y="1100.3" font-size="25" text-anchor="middle">100</text>
<text x="481" y="1100.3" font-size="25" text-anchor="middle">120</text>
<text x="546.6" y="1100.3" font-size="25" text-anchor="middle">140</text>
<text x="642.3" y="1100.3" font-size="25" text-anchor="middle">170</text>
<text x="738.7" y="1100.3" font-size="25" text-anchor="middle">200</text>
<text x="898.8" y="1100.3" font-size="25" text-anchor="middle">250</text>
<text x="515" y="1140.5" font-size="25" text-anchor="middle">Frequency (Hz)</text>
<text transform="translate(29.8,851.5) rotate(-90)" font-size="24.6" text-anchor="middle">Aversiveness (1–5)</text>
<text x="223.8" y="740.7" font-size="29.5" text-anchor="middle" letter-spacing="1.4">***</text>
<text x="288" y="758.2" font-size="29.5" text-anchor="middle" letter-spacing="1.4">***</text>
<text x="351.5" y="774.7" font-size="29.5" text-anchor="middle">*</text>
<polygon points="134.4,1222.2 133.06,1226.31 129.56,1228.86 125.24,1228.86 121.74,1226.31 120.4,1222.2 121.74,1218.09 125.24,1215.54 129.56,1215.54 133.06,1218.09" fill="none" stroke="#e3e3e3" stroke-width="3.4"/>
<polygon points="134.4,1223.7 133.06,1227.81 129.56,1230.36 125.24,1230.36 121.74,1227.81 120.4,1223.7 121.74,1219.59 125.24,1217.04 129.56,1217.04 133.06,1219.59" fill="none" stroke="#e3e3e3" stroke-width="3.4"/>
<polygon points="134.4,1424.5 133.06,1428.61 129.56,1431.16 125.24,1431.16 121.74,1428.61 120.4,1424.5 121.74,1420.39 125.24,1417.84 129.56,1417.84 133.06,1420.39" fill="none" stroke="#e3e3e3" stroke-width="3.4"/>
<polygon points="134.4,1453.9 133.06,1458.01 129.56,1460.56 125.24,1460.56 121.74,1458.01 120.4,1453.9 121.74,1449.79 125.24,1447.24 129.56,1447.24 133.06,1449.79" fill="none" stroke="#e3e3e3" stroke-width="3.4"/>
<polygon points="134.4,1524 133.06,1528.11 129.56,1530.66 125.24,1530.66 121.74,1528.11 120.4,1524 121.74,1519.89 125.24,1517.34 129.56,1517.34 133.06,1519.89" fill="none" stroke="#e3e3e3" stroke-width="3.4"/>
<polygon points="134.4,1574.6 133.06,1578.71 129.56,1581.26 125.24,1581.26 121.74,1578.71 120.4,1574.6 121.74,1570.49 125.24,1567.94 129.56,1567.94 133.06,1570.49" fill="none" stroke="#e3e3e3" stroke-width="3.4"/>
<polygon points="134.4,1595.2 133.06,1599.31 129.56,1601.86 125.24,1601.86 121.74,1599.31 120.4,1595.2 121.74,1591.09 125.24,1588.54 129.56,1588.54 133.06,1591.09" fill="none" stroke="#e3e3e3" stroke-width="3.4"/>
<polygon points="134.4,1599.9 133.06,1604.01 129.56,1606.56 125.24,1606.56 121.74,1604.01 120.4,1599.9 121.74,1595.79 125.24,1593.24 129.56,1593.24 133.06,1595.79" fill="none" stroke="#e3e3e3" stroke-width="3.4"/>
<polygon points="134.4,1606.2 133.06,1610.31 129.56,1612.86 125.24,1612.86 121.74,1610.31 120.4,1606.2 121.74,1602.09 125.24,1599.54 129.56,1599.54 133.06,1602.09" fill="none" stroke="#e3e3e3" stroke-width="3.4"/>
<polygon points="134.4,1611 133.06,1615.11 129.56,1617.66 125.24,1617.66 121.74,1615.11 120.4,1611 121.74,1606.89 125.24,1604.34 129.56,1604.34 133.06,1606.89" fill="none" stroke="#e3e3e3" stroke-width="3.4"/>
<polygon points="134.4,1615.7 133.06,1619.81 129.56,1622.36 125.24,1622.36 121.74,1619.81 120.4,1615.7 121.74,1611.59 125.24,1609.04 129.56,1609.04 133.06,1611.59" fill="none" stroke="#e3e3e3" stroke-width="3.4"/>
<polygon points="134.4,1618.9 133.06,1623.01 129.56,1625.56 125.24,1625.56 121.74,1623.01 120.4,1618.9 121.74,1614.79 125.24,1612.24 129.56,1612.24 133.06,1614.79" fill="none" stroke="#e3e3e3" stroke-width="3.4"/>
<polygon points="166.6,1206.4 165.26,1210.51 161.76,1213.06 157.44,1213.06 153.94,1210.51 152.6,1206.4 153.94,1202.29 157.44,1199.74 161.76,1199.74 165.26,1202.29" fill="none" stroke="#e3e3e3" stroke-width="3.4"/>
<polygon points="166.6,1279.1 165.26,1283.21 161.76,1285.76 157.44,1285.76 153.94,1283.21 152.6,1279.1 153.94,1274.99 157.44,1272.44 161.76,1272.44 165.26,1274.99" fill="none" stroke="#e3e3e3" stroke-width="3.4"/>
<polygon points="166.6,1328 165.26,1332.11 161.76,1334.66 157.44,1334.66 153.94,1332.11 152.6,1328 153.94,1323.89 157.44,1321.34 161.76,1321.34 165.26,1323.89" fill="none" stroke="#e3e3e3" stroke-width="3.4"/>
<polygon points="166.6,1336.9 165.26,1341.01 161.76,1343.56 157.44,1343.56 153.94,1341.01 152.6,1336.9 153.94,1332.79 157.44,1330.24 161.76,1330.24 165.26,1332.79" fill="none" stroke="#e3e3e3" stroke-width="3.4"/>
<polygon points="166.6,1360.6 165.26,1364.71 161.76,1367.26 157.44,1367.26 153.94,1364.71 152.6,1360.6 153.94,1356.49 157.44,1353.94 161.76,1353.94 165.26,1356.49" fill="none" stroke="#e3e3e3" stroke-width="3.4"/>
<polygon points="166.6,1531.9 165.26,1536.01 161.76,1538.56 157.44,1538.56 153.94,1536.01 152.6,1531.9 153.94,1527.79 157.44,1525.24 161.76,1525.24 165.26,1527.79" fill="none" stroke="#e3e3e3" stroke-width="3.4"/>
<polygon points="166.6,1562 165.26,1566.11 161.76,1568.66 157.44,1568.66 153.94,1566.11 152.6,1562 153.94,1557.89 157.44,1555.34 161.76,1555.34 165.26,1557.89" fill="none" stroke="#e3e3e3" stroke-width="3.4"/>
<polygon points="166.6,1580.9 165.26,1585.01 161.76,1587.56 157.44,1587.56 153.94,1585.01 152.6,1580.9 153.94,1576.79 157.44,1574.24 161.76,1574.24 165.26,1576.79" fill="none" stroke="#e3e3e3" stroke-width="3.4"/>
<polygon points="166.6,1584.1 165.26,1588.21 161.76,1590.76 157.44,1590.76 153.94,1588.21 152.6,1584.1 153.94,1579.99 157.44,1577.44 161.76,1577.44 165.26,1579.99" fill="none" stroke="#e3e3e3" stroke-width="3.4"/>
<polygon points="166.6,1598.3 165.26,1602.41 161.76,1604.96 157.44,1604.96 153.94,1602.41 152.6,1598.3 153.94,1594.19 157.44,1591.64 161.76,1591.64 165.26,1594.19" fill="none" stroke="#e3e3e3" stroke-width="3.4"/>
<polygon points="166.6,1621.4 165.26,1625.51 161.76,1628.06 157.44,1628.06 153.94,1625.51 152.6,1621.4 153.94,1617.29 157.44,1614.74 161.76,1614.74 165.26,1617.29" fill="none" stroke="#e3e3e3" stroke-width="3.4"/>
<polygon points="230.5,1245.9 229.16,1250.01 225.66,1252.56 221.34,1252.56 217.84,1250.01 216.5,1245.9 217.84,1241.79 221.34,1239.24 225.66,1239.24 229.16,1241.79" fill="none" stroke="#e3e3e3" stroke-width="3.4"/>
<polygon points="230.5,1252.8 229.16,1256.91 225.66,1259.46 221.34,1259.46 217.84,1256.91 216.5,1252.8 217.84,1248.69 221.34,1246.14 225.66,1246.14 229.16,1248.69" fill="none" stroke="#e3e3e3" stroke-width="3.4"/>
<polygon points="230.5,1264.8 229.16,1268.91 225.66,1271.46 221.34,1271.46 217.84,1268.91 216.5,1264.8 217.84,1260.69 221.34,1258.14 225.66,1258.14 229.16,1260.69" fill="none" stroke="#e3e3e3" stroke-width="3.4"/>
<polygon points="230.5,1271.8 229.16,1275.91 225.66,1278.46 221.34,1278.46 217.84,1275.91 216.5,1271.8 217.84,1267.69 221.34,1265.14 225.66,1265.14 229.16,1267.69" fill="none" stroke="#e3e3e3" stroke-width="3.4"/>
<polygon points="230.5,1360.6 229.16,1364.71 225.66,1367.26 221.34,1367.26 217.84,1364.71 216.5,1360.6 217.84,1356.49 221.34,1353.94 225.66,1353.94 229.16,1356.49" fill="none" stroke="#e3e3e3" stroke-width="3.4"/>
<polygon points="230.5,1383.4 229.16,1387.51 225.66,1390.06 221.34,1390.06 217.84,1387.51 216.5,1383.4 217.84,1379.29 221.34,1376.74 225.66,1376.74 229.16,1379.29" fill="none" stroke="#e3e3e3" stroke-width="3.4"/>
<polygon points="230.5,1459.2 229.16,1463.31 225.66,1465.86 221.34,1465.86 217.84,1463.31 216.5,1459.2 217.84,1455.09 221.34,1452.54 225.66,1452.54 229.16,1455.09" fill="none" stroke="#e3e3e3" stroke-width="3.4"/>
<polygon points="230.5,1479.8 229.16,1483.91 225.66,1486.46 221.34,1486.46 217.84,1483.91 216.5,1479.8 217.84,1475.69 221.34,1473.14 225.66,1473.14 229.16,1475.69" fill="none" stroke="#e3e3e3" stroke-width="3.4"/>
<polygon points="230.5,1514.5 229.16,1518.61 225.66,1521.16 221.34,1521.16 217.84,1518.61 216.5,1514.5 217.84,1510.39 221.34,1507.84 225.66,1507.84 229.16,1510.39" fill="none" stroke="#e3e3e3" stroke-width="3.4"/>
<polygon points="230.5,1538.3 229.16,1542.41 225.66,1544.96 221.34,1544.96 217.84,1542.41 216.5,1538.3 217.84,1534.19 221.34,1531.64 225.66,1531.64 229.16,1534.19" fill="none" stroke="#e3e3e3" stroke-width="3.4"/>
<polygon points="230.5,1564.5 229.16,1568.61 225.66,1571.16 221.34,1571.16 217.84,1568.61 216.5,1564.5 217.84,1560.39 221.34,1557.84 225.66,1557.84 229.16,1560.39" fill="none" stroke="#e3e3e3" stroke-width="3.4"/>
<polygon points="294,1280 292.66,1284.11 289.16,1286.66 284.84,1286.66 281.34,1284.11 280,1280 281.34,1275.89 284.84,1273.34 289.16,1273.34 292.66,1275.89" fill="none" stroke="#e3e3e3" stroke-width="3.4"/>
<polygon points="294,1290.7 292.66,1294.81 289.16,1297.36 284.84,1297.36 281.34,1294.81 280,1290.7 281.34,1286.59 284.84,1284.04 289.16,1284.04 292.66,1286.59" fill="none" stroke="#e3e3e3" stroke-width="3.4"/>
<polygon points="294,1309.1 292.66,1313.21 289.16,1315.76 284.84,1315.76 281.34,1313.21 280,1309.1 281.34,1304.99 284.84,1302.44 289.16,1302.44 292.66,1304.99" fill="none" stroke="#e3e3e3" stroke-width="3.4"/>
<polygon points="294,1313.8 292.66,1317.91 289.16,1320.46 284.84,1320.46 281.34,1317.91 280,1313.8 281.34,1309.69 284.84,1307.14 289.16,1307.14 292.66,1309.69" fill="none" stroke="#e3e3e3" stroke-width="3.4"/>
<polygon points="294,1372.3 292.66,1376.41 289.16,1378.96 284.84,1378.96 281.34,1376.41 280,1372.3 281.34,1368.19 284.84,1365.64 289.16,1365.64 292.66,1368.19" fill="none" stroke="#e3e3e3" stroke-width="3.4"/>
<polygon points="294,1419.7 292.66,1423.81 289.16,1426.36 284.84,1426.36 281.34,1423.81 280,1419.7 281.34,1415.59 284.84,1413.04 289.16,1413.04 292.66,1415.59" fill="none" stroke="#e3e3e3" stroke-width="3.4"/>
<polygon points="294,1448.2 292.66,1452.31 289.16,1454.86 284.84,1454.86 281.34,1452.31 280,1448.2 281.34,1444.09 284.84,1441.54 289.16,1441.54 292.66,1444.09" fill="none" stroke="#e3e3e3" stroke-width="3.4"/>
<polygon points="294,1459.2 292.66,1463.31 289.16,1465.86 284.84,1465.86 281.34,1463.31 280,1459.2 281.34,1455.09 284.84,1452.54 289.16,1452.54 292.66,1455.09" fill="none" stroke="#e3e3e3" stroke-width="3.4"/>
<polygon points="294,1465.6 292.66,1469.71 289.16,1472.26 284.84,1472.26 281.34,1469.71 280,1465.6 281.34,1461.49 284.84,1458.94 289.16,1458.94 292.66,1461.49" fill="none" stroke="#e3e3e3" stroke-width="3.4"/>
<polygon points="294,1471.9 292.66,1476.01 289.16,1478.56 284.84,1478.56 281.34,1476.01 280,1471.9 281.34,1467.79 284.84,1465.24 289.16,1465.24 292.66,1467.79" fill="none" stroke="#e3e3e3" stroke-width="3.4"/>
<polygon points="294,1506.6 292.66,1510.71 289.16,1513.26 284.84,1513.26 281.34,1510.71 280,1506.6 281.34,1502.49 284.84,1499.94 289.16,1499.94 292.66,1502.49" fill="none" stroke="#e3e3e3" stroke-width="3.4"/>
<polygon points="294,1514.5 292.66,1518.61 289.16,1521.16 284.84,1521.16 281.34,1518.61 280,1514.5 281.34,1510.39 284.84,1507.84 289.16,1507.84 292.66,1510.39" fill="none" stroke="#e3e3e3" stroke-width="3.4"/>
<polygon points="358.1,1311 356.76,1315.11 353.26,1317.66 348.94,1317.66 345.44,1315.11 344.1,1311 345.44,1306.89 348.94,1304.34 353.26,1304.34 356.76,1306.89" fill="none" stroke="#e3e3e3" stroke-width="3.4"/>
<polygon points="358.1,1365 356.76,1369.11 353.26,1371.66 348.94,1371.66 345.44,1369.11 344.1,1365 345.44,1360.89 348.94,1358.34 353.26,1358.34 356.76,1360.89" fill="none" stroke="#e3e3e3" stroke-width="3.4"/>
<polygon points="358.1,1384.7 356.76,1388.81 353.26,1391.36 348.94,1391.36 345.44,1388.81 344.1,1384.7 345.44,1380.59 348.94,1378.04 353.26,1378.04 356.76,1380.59" fill="none" stroke="#e3e3e3" stroke-width="3.4"/>
<polygon points="358.1,1394 356.76,1398.11 353.26,1400.66 348.94,1400.66 345.44,1398.11 344.1,1394 345.44,1389.89 348.94,1387.34 353.26,1387.34 356.76,1389.89" fill="none" stroke="#e3e3e3" stroke-width="3.4"/>
<polygon points="358.1,1397.9 356.76,1402.01 353.26,1404.56 348.94,1404.56 345.44,1402.01 344.1,1397.9 345.44,1393.79 348.94,1391.24 353.26,1391.24 356.76,1393.79" fill="none" stroke="#e3e3e3" stroke-width="3.4"/>
<polygon points="358.1,1453.2 356.76,1457.31 353.26,1459.86 348.94,1459.86 345.44,1457.31 344.1,1453.2 345.44,1449.09 348.94,1446.54 353.26,1446.54 356.76,1449.09" fill="none" stroke="#e3e3e3" stroke-width="3.4"/>
<polygon points="358.1,1455.8 356.76,1459.91 353.26,1462.46 348.94,1462.46 345.44,1459.91 344.1,1455.8 345.44,1451.69 348.94,1449.14 353.26,1449.14 356.76,1451.69" fill="none" stroke="#e3e3e3" stroke-width="3.4"/>
<polygon points="358.1,1488.7 356.76,1492.81 353.26,1495.36 348.94,1495.36 345.44,1492.81 344.1,1488.7 345.44,1484.59 348.94,1482.04 353.26,1482.04 356.76,1484.59" fill="none" stroke="#e3e3e3" stroke-width="3.4"/>
<polygon points="358.1,1497.9 356.76,1502.01 353.26,1504.56 348.94,1504.56 345.44,1502.01 344.1,1497.9 345.44,1493.79 348.94,1491.24 353.26,1491.24 356.76,1493.79" fill="none" stroke="#e3e3e3" stroke-width="3.4"/>
<polygon points="358.1,1515 356.76,1519.11 353.26,1521.66 348.94,1521.66 345.44,1519.11 344.1,1515 345.44,1510.89 348.94,1508.34 353.26,1508.34 356.76,1510.89" fill="none" stroke="#e3e3e3" stroke-width="3.4"/>
<polygon points="422.3,1360.5 420.96,1364.61 417.46,1367.16 413.14,1367.16 409.64,1364.61 408.3,1360.5 409.64,1356.39 413.14,1353.84 417.46,1353.84 420.96,1356.39" fill="none" stroke="#e3e3e3" stroke-width="3.4"/>
<polygon points="422.3,1386 420.96,1390.11 417.46,1392.66 413.14,1392.66 409.64,1390.11 408.3,1386 409.64,1381.89 413.14,1379.34 417.46,1379.34 420.96,1381.89" fill="none" stroke="#e3e3e3" stroke-width="3.4"/>
<polygon points="422.3,1392.6 420.96,1396.71 417.46,1399.26 413.14,1399.26 409.64,1396.71 408.3,1392.6 409.64,1388.49 413.14,1385.94 417.46,1385.94 420.96,1388.49" fill="none" stroke="#e3e3e3" stroke-width="3.4"/>
<polygon points="422.3,1416.3 420.96,1420.41 417.46,1422.96 413.14,1422.96 409.64,1420.41 408.3,1416.3 409.64,1412.19 413.14,1409.64 417.46,1409.64 420.96,1412.19" fill="none" stroke="#e3e3e3" stroke-width="3.4"/>
<polygon points="422.3,1451.8 420.96,1455.91 417.46,1458.46 413.14,1458.46 409.64,1455.91 408.3,1451.8 409.64,1447.69 413.14,1445.14 417.46,1445.14 420.96,1447.69" fill="none" stroke="#e3e3e3" stroke-width="3.4"/>
<polygon points="422.3,1474.2 420.96,1478.31 417.46,1480.86 413.14,1480.86 409.64,1478.31 408.3,1474.2 409.64,1470.09 413.14,1467.54 417.46,1467.54 420.96,1470.09" fill="none" stroke="#e3e3e3" stroke-width="3.4"/>
<polygon points="422.3,1532.1 420.96,1536.21 417.46,1538.76 413.14,1538.76 409.64,1536.21 408.3,1532.1 409.64,1527.99 413.14,1525.44 417.46,1525.44 420.96,1527.99" fill="none" stroke="#e3e3e3" stroke-width="3.4"/>
<polygon points="486.2,1357.1 484.86,1361.21 481.36,1363.76 477.04,1363.76 473.54,1361.21 472.2,1357.1 473.54,1352.99 477.04,1350.44 481.36,1350.44 484.86,1352.99" fill="none" stroke="#e3e3e3" stroke-width="3.4"/>
<polygon points="486.2,1383.4 484.86,1387.51 481.36,1390.06 477.04,1390.06 473.54,1387.51 472.2,1383.4 473.54,1379.29 477.04,1376.74 481.36,1376.74 484.86,1379.29" fill="none" stroke="#e3e3e3" stroke-width="3.4"/>
<polygon points="486.2,1392.6 484.86,1396.71 481.36,1399.26 477.04,1399.26 473.54,1396.71 472.2,1392.6 473.54,1388.49 477.04,1385.94 481.36,1385.94 484.86,1388.49" fill="none" stroke="#e3e3e3" stroke-width="3.4"/>
<polygon points="486.2,1424.2 484.86,1428.31 481.36,1430.86 477.04,1430.86 473.54,1428.31 472.2,1424.2 473.54,1420.09 477.04,1417.54 481.36,1417.54 484.86,1420.09" fill="none" stroke="#e3e3e3" stroke-width="3.4"/>
<polygon points="486.2,1463.7 484.86,1467.81 481.36,1470.36 477.04,1470.36 473.54,1467.81 472.2,1463.7 473.54,1459.59 477.04,1457.04 481.36,1457.04 484.86,1459.59" fill="none" stroke="#e3e3e3" stroke-width="3.4"/>
<polygon points="486.2,1474.2 484.86,1478.31 481.36,1480.86 477.04,1480.86 473.54,1478.31 472.2,1474.2 473.54,1470.09 477.04,1467.54 481.36,1467.54 484.86,1470.09" fill="none" stroke="#e3e3e3" stroke-width="3.4"/>
<polygon points="486.2,1482.1 484.86,1486.21 481.36,1488.76 477.04,1488.76 473.54,1486.21 472.2,1482.1 473.54,1477.99 477.04,1475.44 481.36,1475.44 484.86,1477.99" fill="none" stroke="#e3e3e3" stroke-width="3.4"/>
<polygon points="486.2,1520.3 484.86,1524.41 481.36,1526.96 477.04,1526.96 473.54,1524.41 472.2,1520.3 473.54,1516.19 477.04,1513.64 481.36,1513.64 484.86,1516.19" fill="none" stroke="#e3e3e3" stroke-width="3.4"/>
<polygon points="486.2,1544 484.86,1548.11 481.36,1550.66 477.04,1550.66 473.54,1548.11 472.2,1544 473.54,1539.89 477.04,1537.34 481.36,1537.34 484.86,1539.89" fill="none" stroke="#e3e3e3" stroke-width="3.4"/>
<polygon points="553,1363.7 551.66,1367.81 548.16,1370.36 543.84,1370.36 540.34,1367.81 539,1363.7 540.34,1359.59 543.84,1357.04 548.16,1357.04 551.66,1359.59" fill="none" stroke="#e3e3e3" stroke-width="3.4"/>
<polygon points="553,1384.7 551.66,1388.81 548.16,1391.36 543.84,1391.36 540.34,1388.81 539,1384.7 540.34,1380.59 543.84,1378.04 548.16,1378.04 551.66,1380.59" fill="none" stroke="#e3e3e3" stroke-width="3.4"/>
<polygon points="553,1412.4 551.66,1416.51 548.16,1419.06 543.84,1419.06 540.34,1416.51 539,1412.4 540.34,1408.29 543.84,1405.74 548.16,1405.74 551.66,1408.29" fill="none" stroke="#e3e3e3" stroke-width="3.4"/>
<polygon points="553,1417.6 551.66,1421.71 548.16,1424.26 543.84,1424.26 540.34,1421.71 539,1417.6 540.34,1413.49 543.84,1410.94 548.16,1410.94 551.66,1413.49" fill="none" stroke="#e3e3e3" stroke-width="3.4"/>
<polygon points="553,1424.2 551.66,1428.31 548.16,1430.86 543.84,1430.86 540.34,1428.31 539,1424.2 540.34,1420.09 543.84,1417.54 548.16,1417.54 551.66,1420.09" fill="none" stroke="#e3e3e3" stroke-width="3.4"/>
<polygon points="553,1430.8 551.66,1434.91 548.16,1437.46 543.84,1437.46 540.34,1434.91 539,1430.8 540.34,1426.69 543.84,1424.14 548.16,1424.14 551.66,1426.69" fill="none" stroke="#e3e3e3" stroke-width="3.4"/>
<polygon points="553,1461 551.66,1465.11 548.16,1467.66 543.84,1467.66 540.34,1465.11 539,1461 540.34,1456.89 543.84,1454.34 548.16,1454.34 551.66,1456.89" fill="none" stroke="#e3e3e3" stroke-width="3.4"/>
<polygon points="553,1497.9 551.66,1502.01 548.16,1504.56 543.84,1504.56 540.34,1502.01 539,1497.9 540.34,1493.79 543.84,1491.24 548.16,1491.24 551.66,1493.79" fill="none" stroke="#e3e3e3" stroke-width="3.4"/>
<polygon points="553,1555.8 551.66,1559.91 548.16,1562.46 543.84,1562.46 540.34,1559.91 539,1555.8 540.34,1551.69 543.84,1549.14 548.16,1549.14 551.66,1551.69" fill="none" stroke="#e3e3e3" stroke-width="3.4"/>
<polygon points="553,1608.4 551.66,1612.51 548.16,1615.06 543.84,1615.06 540.34,1612.51 539,1608.4 540.34,1604.29 543.84,1601.74 548.16,1601.74 551.66,1604.29" fill="none" stroke="#e3e3e3" stroke-width="3.4"/>
<polygon points="649.4,1294 648.06,1298.11 644.56,1300.66 640.24,1300.66 636.74,1298.11 635.4,1294 636.74,1289.89 640.24,1287.34 644.56,1287.34 648.06,1289.89" fill="none" stroke="#e3e3e3" stroke-width="3.4"/>
<polygon points="649.4,1349.2 648.06,1353.31 644.56,1355.86 640.24,1355.86 636.74,1353.31 635.4,1349.2 636.74,1345.09 640.24,1342.54 644.56,1342.54 648.06,1345.09" fill="none" stroke="#e3e3e3" stroke-width="3.4"/>
<polygon points="649.4,1366.3 648.06,1370.41 644.56,1372.96 640.24,1372.96 636.74,1370.41 635.4,1366.3 636.74,1362.19 640.24,1359.64 644.56,1359.64 648.06,1362.19" fill="none" stroke="#e3e3e3" stroke-width="3.4"/>
<polygon points="649.4,1384.7 648.06,1388.81 644.56,1391.36 640.24,1391.36 636.74,1388.81 635.4,1384.7 636.74,1380.59 640.24,1378.04 644.56,1378.04 648.06,1380.59" fill="none" stroke="#e3e3e3" stroke-width="3.4"/>
<polygon points="649.4,1392.6 648.06,1396.71 644.56,1399.26 640.24,1399.26 636.74,1396.71 635.4,1392.6 636.74,1388.49 640.24,1385.94 644.56,1385.94 648.06,1388.49" fill="none" stroke="#e3e3e3" stroke-width="3.4"/>
<polygon points="649.4,1397.9 648.06,1402.01 644.56,1404.56 640.24,1404.56 636.74,1402.01 635.4,1397.9 636.74,1393.79 640.24,1391.24 644.56,1391.24 648.06,1393.79" fill="none" stroke="#e3e3e3" stroke-width="3.4"/>
<polygon points="649.4,1480.8 648.06,1484.91 644.56,1487.46 640.24,1487.46 636.74,1484.91 635.4,1480.8 636.74,1476.69 640.24,1474.14 644.56,1474.14 648.06,1476.69" fill="none" stroke="#e3e3e3" stroke-width="3.4"/>
<polygon points="649.4,1505.8 648.06,1509.91 644.56,1512.46 640.24,1512.46 636.74,1509.91 635.4,1505.8 636.74,1501.69 640.24,1499.14 644.56,1499.14 648.06,1501.69" fill="none" stroke="#e3e3e3" stroke-width="3.4"/>
<polygon points="649.4,1541.3 648.06,1545.41 644.56,1547.96 640.24,1547.96 636.74,1545.41 635.4,1541.3 636.74,1537.19 640.24,1534.64 644.56,1534.64 648.06,1537.19" fill="none" stroke="#e3e3e3" stroke-width="3.4"/>
<polygon points="649.4,1616.3 648.06,1620.41 644.56,1622.96 640.24,1622.96 636.74,1620.41 635.4,1616.3 636.74,1612.19 640.24,1609.64 644.56,1609.64 648.06,1612.19" fill="none" stroke="#e3e3e3" stroke-width="3.4"/>
<polygon points="745.4,1265 744.06,1269.11 740.56,1271.66 736.24,1271.66 732.74,1269.11 731.4,1265 732.74,1260.89 736.24,1258.34 740.56,1258.34 744.06,1260.89" fill="none" stroke="#e3e3e3" stroke-width="3.4"/>
<polygon points="745.4,1317.6 744.06,1321.71 740.56,1324.26 736.24,1324.26 732.74,1321.71 731.4,1317.6 732.74,1313.49 736.24,1310.94 740.56,1310.94 744.06,1313.49" fill="none" stroke="#e3e3e3" stroke-width="3.4"/>
<polygon points="745.4,1355.8 744.06,1359.91 740.56,1362.46 736.24,1362.46 732.74,1359.91 731.4,1355.8 732.74,1351.69 736.24,1349.14 740.56,1349.14 744.06,1351.69" fill="none" stroke="#e3e3e3" stroke-width="3.4"/>
<polygon points="745.4,1358.4 744.06,1362.51 740.56,1365.06 736.24,1365.06 732.74,1362.51 731.4,1358.4 732.74,1354.29 736.24,1351.74 740.56,1351.74 744.06,1354.29" fill="none" stroke="#e3e3e3" stroke-width="3.4"/>
<polygon points="745.4,1371.6 744.06,1375.71 740.56,1378.26 736.24,1378.26 732.74,1375.71 731.4,1371.6 732.74,1367.49 736.24,1364.94 740.56,1364.94 744.06,1367.49" fill="none" stroke="#e3e3e3" stroke-width="3.4"/>
<polygon points="745.4,1384.7 744.06,1388.81 740.56,1391.36 736.24,1391.36 732.74,1388.81 731.4,1384.7 732.74,1380.59 736.24,1378.04 740.56,1378.04 744.06,1380.59" fill="none" stroke="#e3e3e3" stroke-width="3.4"/>
<polygon points="745.4,1395.3 744.06,1399.41 740.56,1401.96 736.24,1401.96 732.74,1399.41 731.4,1395.3 732.74,1391.19 736.24,1388.64 740.56,1388.64 744.06,1391.19" fill="none" stroke="#e3e3e3" stroke-width="3.4"/>
<polygon points="745.4,1520.3 744.06,1524.41 740.56,1526.96 736.24,1526.96 732.74,1524.41 731.4,1520.3 732.74,1516.19 736.24,1513.64 740.56,1513.64 744.06,1516.19" fill="none" stroke="#e3e3e3" stroke-width="3.4"/>
<polygon points="745.4,1529.5 744.06,1533.61 740.56,1536.16 736.24,1536.16 732.74,1533.61 731.4,1529.5 732.74,1525.39 736.24,1522.84 740.56,1522.84 744.06,1525.39" fill="none" stroke="#e3e3e3" stroke-width="3.4"/>
<polygon points="745.4,1558.4 744.06,1562.51 740.56,1565.06 736.24,1565.06 732.74,1562.51 731.4,1558.4 732.74,1554.29 736.24,1551.74 740.56,1551.74 744.06,1554.29" fill="none" stroke="#e3e3e3" stroke-width="3.4"/>
<polygon points="745.4,1608.4 744.06,1612.51 740.56,1615.06 736.24,1615.06 732.74,1612.51 731.4,1608.4 732.74,1604.29 736.24,1601.74 740.56,1601.74 744.06,1604.29" fill="none" stroke="#e3e3e3" stroke-width="3.4"/>
<polygon points="905.3,1214.4 903.96,1218.51 900.46,1221.06 896.14,1221.06 892.64,1218.51 891.3,1214.4 892.64,1210.29 896.14,1207.74 900.46,1207.74 903.96,1210.29" fill="none" stroke="#e3e3e3" stroke-width="3.4"/>
<polygon points="905.3,1255.5 903.96,1259.61 900.46,1262.16 896.14,1262.16 892.64,1259.61 891.3,1255.5 892.64,1251.39 896.14,1248.84 900.46,1248.84 903.96,1251.39" fill="none" stroke="#e3e3e3" stroke-width="3.4"/>
<polygon points="905.3,1287.4 903.96,1291.51 900.46,1294.06 896.14,1294.06 892.64,1291.51 891.3,1287.4 892.64,1283.29 896.14,1280.74 900.46,1280.74 903.96,1283.29" fill="none" stroke="#e3e3e3" stroke-width="3.4"/>
<polygon points="905.3,1305.1 903.96,1309.21 900.46,1311.76 896.14,1311.76 892.64,1309.21 891.3,1305.1 892.64,1300.99 896.14,1298.44 900.46,1298.44 903.96,1300.99" fill="none" stroke="#e3e3e3" stroke-width="3.4"/>
<polygon points="905.3,1342.3 903.96,1346.41 900.46,1348.96 896.14,1348.96 892.64,1346.41 891.3,1342.3 892.64,1338.19 896.14,1335.64 900.46,1335.64 903.96,1338.19" fill="none" stroke="#e3e3e3" stroke-width="3.4"/>
<polygon points="905.3,1362 903.96,1366.11 900.46,1368.66 896.14,1368.66 892.64,1366.11 891.3,1362 892.64,1357.89 896.14,1355.34 900.46,1355.34 903.96,1357.89" fill="none" stroke="#e3e3e3" stroke-width="3.4"/>
<polygon points="905.3,1369.7 903.96,1373.81 900.46,1376.36 896.14,1376.36 892.64,1373.81 891.3,1369.7 892.64,1365.59 896.14,1363.04 900.46,1363.04 903.96,1365.59" fill="none" stroke="#e3e3e3" stroke-width="3.4"/>
<polygon points="905.3,1482.3 903.96,1486.41 900.46,1488.96 896.14,1488.96 892.64,1486.41 891.3,1482.3 892.64,1478.19 896.14,1475.64 900.46,1475.64 903.96,1478.19" fill="none" stroke="#e3e3e3" stroke-width="3.4"/>
<polygon points="905.3,1491.5 903.96,1495.61 900.46,1498.16 896.14,1498.16 892.64,1495.61 891.3,1491.5 892.64,1487.39 896.14,1484.84 900.46,1484.84 903.96,1487.39" fill="none" stroke="#e3e3e3" stroke-width="3.4"/>
<polygon points="905.3,1590.4 903.96,1594.51 900.46,1597.06 896.14,1597.06 892.64,1594.51 891.3,1590.4 892.64,1586.29 896.14,1583.74 900.46,1583.74 903.96,1586.29" fill="none" stroke="#e3e3e3" stroke-width="3.4"/>
<polygon points="905.3,1596.5 903.96,1600.61 900.46,1603.16 896.14,1603.16 892.64,1600.61 891.3,1596.5 892.64,1592.39 896.14,1589.84 900.46,1589.84 903.96,1592.39" fill="none" stroke="#e3e3e3" stroke-width="3.4"/>
<line x1="127" y1="1516" x2="898" y2="1389.5" stroke="#ff0000" stroke-width="3" stroke-dasharray="3 8.6"/>
<line x1="115.9" y1="1514.5" x2="138.9" y2="1514.5" stroke="#ff0000" stroke-width="3"/>
<line x1="127.4" y1="1503" x2="127.4" y2="1526" stroke="#ff0000" stroke-width="3"/>
<line x1="148.1" y1="1509.8" x2="171.1" y2="1509.8" stroke="#ff0000" stroke-width="3"/>
<line x1="159.6" y1="1498.3" x2="159.6" y2="1521.3" stroke="#ff0000" stroke-width="3"/>
<line x1="212" y1="1500.3" x2="235" y2="1500.3" stroke="#ff0000" stroke-width="3"/>
<line x1="223.5" y1="1488.8" x2="223.5" y2="1511.8" stroke="#ff0000" stroke-width="3"/>
<line x1="275.5" y1="1489.3" x2="298.5" y2="1489.3" stroke="#ff0000" stroke-width="3"/>
<line x1="287" y1="1477.8" x2="287" y2="1500.8" stroke="#ff0000" stroke-width="3"/>
<line x1="339.6" y1="1476.8" x2="362.6" y2="1476.8" stroke="#ff0000" stroke-width="3"/>
<line x1="351.1" y1="1465.3" x2="351.1" y2="1488.3" stroke="#ff0000" stroke-width="3"/>
<line x1="403.8" y1="1469" x2="426.8" y2="1469" stroke="#ff0000" stroke-width="3"/>
<line x1="415.3" y1="1457.5" x2="415.3" y2="1480.5" stroke="#ff0000" stroke-width="3"/>
<line x1="467.7" y1="1457.1" x2="490.7" y2="1457.1" stroke="#ff0000" stroke-width="3"/>
<line x1="479.2" y1="1445.6" x2="479.2" y2="1468.6" stroke="#ff0000" stroke-width="3"/>
<polyline points="127.4,1506 159.6,1462.4 223.5,1404.5 287,1404.5 351.1,1419 415.3,1430.8 479.2,1442.1 546,1447.9 642.4,1428.2 738.4,1419 898.3,1389.5" fill="none" stroke="#000" stroke-width="3"/>
<line x1="128" y1="1462.4" x2="128" y2="1549.3" stroke="#000" stroke-width="3"/>
<line x1="160.3" y1="1419.7" x2="160.3" y2="1509.8" stroke="#000" stroke-width="3"/>
<line x1="223.8" y1="1367.6" x2="223.8" y2="1439.3" stroke="#000" stroke-width="3"/>
<line x1="287.6" y1="1378.6" x2="287.6" y2="1430.8" stroke="#000" stroke-width="3"/>
<line x1="352.4" y1="1401.8" x2="352.4" y2="1438.7" stroke="#000" stroke-width="3"/>
<line x1="416.6" y1="1415" x2="416.6" y2="1446" stroke="#000" stroke-width="3"/>
<line x1="480.5" y1="1425.5" x2="480.5" y2="1461" stroke="#000" stroke-width="3"/>
<line x1="544.2" y1="1425.5" x2="544.2" y2="1470.3" stroke="#000" stroke-width="3"/>
<line x1="640.8" y1="1401.8" x2="640.8" y2="1456.3" stroke="#000" stroke-width="3"/>
<line x1="736.8" y1="1386.8" x2="736.8" y2="1451.8" stroke="#000" stroke-width="3"/>
<line x1="896.8" y1="1353.5" x2="896.8" y2="1427.5" stroke="#000" stroke-width="3"/>
<polygon points="140.3,1506 137.84,1513.58 131.39,1518.27 123.41,1518.27 116.96,1513.58 114.5,1506 116.96,1498.42 123.41,1493.73 131.39,1493.73 137.84,1498.42" fill="#fff" stroke="#000" stroke-width="3"/>
<polygon points="172.5,1462.4 170.04,1469.98 163.59,1474.67 155.61,1474.67 149.16,1469.98 146.7,1462.4 149.16,1454.82 155.61,1450.13 163.59,1450.13 170.04,1454.82" fill="#fff" stroke="#000" stroke-width="3"/>
<polygon points="236.4,1404.5 233.94,1412.08 227.49,1416.77 219.51,1416.77 213.06,1412.08 210.6,1404.5 213.06,1396.92 219.51,1392.23 227.49,1392.23 233.94,1396.92" fill="#fff" stroke="#000" stroke-width="3"/>
<polygon points="299.9,1404.5 297.44,1412.08 290.99,1416.77 283.01,1416.77 276.56,1412.08 274.1,1404.5 276.56,1396.92 283.01,1392.23 290.99,1392.23 297.44,1396.92" fill="#fff" stroke="#000" stroke-width="3"/>
<polygon points="364,1419 361.54,1426.58 355.09,1431.27 347.11,1431.27 340.66,1426.58 338.2,1419 340.66,1411.42 347.11,1406.73 355.09,1406.73 361.54,1411.42" fill="#fff" stroke="#000" stroke-width="3"/>
<polygon points="428.2,1430.8 425.74,1438.38 419.29,1443.07 411.31,1443.07 404.86,1438.38 402.4,1430.8 404.86,1423.22 411.31,1418.53 419.29,1418.53 425.74,1423.22" fill="#fff" stroke="#000" stroke-width="3"/>
<polygon points="492.1,1442.1 489.64,1449.68 483.19,1454.37 475.21,1454.37 468.76,1449.68 466.3,1442.1 468.76,1434.52 475.21,1429.83 483.19,1429.83 489.64,1434.52" fill="#fff" stroke="#000" stroke-width="3"/>
<polygon points="558.9,1447.9 556.44,1455.48 549.99,1460.17 542.01,1460.17 535.56,1455.48 533.1,1447.9 535.56,1440.32 542.01,1435.63 549.99,1435.63 556.44,1440.32" fill="#fff" stroke="#000" stroke-width="3"/>
<polygon points="655.3,1428.2 652.84,1435.78 646.39,1440.47 638.41,1440.47 631.96,1435.78 629.5,1428.2 631.96,1420.62 638.41,1415.93 646.39,1415.93 652.84,1420.62" fill="#fff" stroke="#000" stroke-width="3"/>
<polygon points="751.3,1419 748.84,1426.58 742.39,1431.27 734.41,1431.27 727.96,1426.58 725.5,1419 727.96,1411.42 734.41,1406.73 742.39,1406.73 748.84,1411.42" fill="#fff" stroke="#000" stroke-width="3"/>
<polygon points="911.2,1389.5 908.74,1397.08 902.29,1401.77 894.31,1401.77 887.86,1397.08 885.4,1389.5 887.86,1381.92 894.31,1377.23 902.29,1377.23 908.74,1381.92" fill="#fff" stroke="#000" stroke-width="3"/>
<line x1="96.4" y1="1206.4" x2="96.4" y2="1625.7" stroke="#000" stroke-width="3"/>
<line x1="94.9" y1="1624.2" x2="930.3" y2="1624.2" stroke="#000" stroke-width="3"/>
<line x1="96.4" y1="1624.2" x2="105.9" y2="1624.2" stroke="#000" stroke-width="3"/>
<line x1="96.4" y1="1572.17" x2="105.9" y2="1572.17" stroke="#000" stroke-width="3"/>
<line x1="96.4" y1="1520.15" x2="105.9" y2="1520.15" stroke="#000" stroke-width="3"/>
<line x1="96.4" y1="1468.12" x2="105.9" y2="1468.12" stroke="#000" stroke-width="3"/>
<line x1="96.4" y1="1416.1" x2="105.9" y2="1416.1" stroke="#000" stroke-width="3"/>
<line x1="96.4" y1="1364.08" x2="105.9" y2="1364.08" stroke="#000" stroke-width="3"/>
<line x1="96.4" y1="1312.05" x2="105.9" y2="1312.05" stroke="#000" stroke-width="3"/>
<line x1="96.4" y1="1260.03" x2="105.9" y2="1260.03" stroke="#000" stroke-width="3"/>
<line x1="96.4" y1="1208" x2="105.9" y2="1208" stroke="#000" stroke-width="3"/>
<line x1="128" y1="1624.2" x2="128" y2="1614.7" stroke="#000" stroke-width="3"/>
<line x1="160.3" y1="1624.2" x2="160.3" y2="1614.7" stroke="#000" stroke-width="3"/>
<line x1="223.8" y1="1624.2" x2="223.8" y2="1614.7" stroke="#000" stroke-width="3"/>
<line x1="287.6" y1="1624.2" x2="287.6" y2="1614.7" stroke="#000" stroke-width="3"/>
<line x1="352.4" y1="1624.2" x2="352.4" y2="1614.7" stroke="#000" stroke-width="3"/>
<line x1="416.6" y1="1624.2" x2="416.6" y2="1614.7" stroke="#000" stroke-width="3"/>
<line x1="480.5" y1="1624.2" x2="480.5" y2="1614.7" stroke="#000" stroke-width="3"/>
<line x1="544.2" y1="1624.2" x2="544.2" y2="1614.7" stroke="#000" stroke-width="3"/>
<line x1="640.8" y1="1624.2" x2="640.8" y2="1614.7" stroke="#000" stroke-width="3"/>
<line x1="736.8" y1="1624.2" x2="736.8" y2="1614.7" stroke="#000" stroke-width="3"/>
<line x1="896.8" y1="1624.2" x2="896.8" y2="1614.7" stroke="#000" stroke-width="3"/>
<text x="81" y="1632.7" font-size="25" text-anchor="end">1</text>
<text x="81" y="1528.65" font-size="25" text-anchor="end">2</text>
<text x="81" y="1424.6" font-size="25" text-anchor="end">3</text>
<text x="81" y="1320.55" font-size="25" text-anchor="end">4</text>
<text x="81" y="1216.5" font-size="25" text-anchor="end">5</text>
<text x="122.6" y="1662" font-size="25" text-anchor="middle">10</text>
<text x="161.5" y="1662" font-size="25" text-anchor="middle">20</text>
<text x="220.6" y="1662" font-size="25" text-anchor="middle">40</text>
<text x="285.2" y="1662" font-size="25" text-anchor="middle">60</text>
<text x="349.2" y="1662" font-size="25" text-anchor="middle">80</text>
<text x="417.7" y="1662" font-size="25" text-anchor="middle">100</text>
<text x="481.2" y="1662" font-size="25" text-anchor="middle">120</text>
<text x="547.1" y="1662" font-size="25" text-anchor="middle">140</text>
<text x="639.9" y="1662" font-size="25" text-anchor="middle">170</text>
<text x="735.7" y="1662" font-size="25" text-anchor="middle">200</text>
<text x="897.4" y="1662" font-size="25" text-anchor="middle">250</text>
<text x="515" y="1705.4" font-size="25" text-anchor="middle">Frequency (Hz)</text>
<text transform="translate(33.2,1416.6) rotate(-90)" font-size="25.1" text-anchor="middle">Aversiveness (1–5)</text>
<text x="224.7" y="1356.2" font-size="29.5" text-anchor="middle">*</text>
<text x="287.1" y="1368.7" font-size="29.5" text-anchor="middle">*</text>
<text x="351.3" y="1386.7" font-size="29.5" text-anchor="middle">*</text>
<text x="7.3" y="643" font-size="41" font-weight="bold">b</text>
<text x="388.6" y="654" font-size="25" text-anchor="middle">Roughness</text>
<text x="646.8" y="654" font-size="25" text-anchor="middle">Pitch</text>
<line x1="537.5" y1="633.3" x2="537.5" y2="706" stroke="#ff0000" stroke-width="2.6" stroke-dasharray="2.6 8.98"/>
<path d="M525.8,660.3 L491.8,660.3 L491.8,654.5 L474.6,663.3 L491.8,672.1 L491.8,666.2 L525.8,666.2 Z" fill="#000"/>
<path d="M550.1,660.3 L584,660.3 L584,654.5 L601.3,663.3 L584,672.1 L584,666.2 L550.1,666.2 Z" fill="#000"/>
<rect x="1138.5" y="1169.3" width="61.3" height="150.6" fill="#fff" stroke="#000" stroke-width="2.8"/>
<rect x="1213.9" y="1223.9" width="61.1" height="96" fill="#fff" stroke="#000" stroke-width="2.8"/>
<line x1="1161.2" y1="1120.6" x2="1252.2" y2="1192.8" stroke="#999" stroke-width="2.9"/>
<line x1="1161.2" y1="1136" x2="1252.2" y2="1178.7" stroke="#999" stroke-width="2.9"/>
<line x1="1161.2" y1="1138" x2="1252.2" y2="1192.8" stroke="#999" stroke-width="2.9"/>
<line x1="1161.2" y1="1142.4" x2="1252.2" y2="1209.9" stroke="#999" stroke-width="2.9"/>
<line x1="1161.2" y1="1154" x2="1252.2" y2="1209.9" stroke="#999" stroke-width="2.9"/>
<line x1="1161.2" y1="1166" x2="1252.2" y2="1220.9" stroke="#999" stroke-width="2.9"/>
<line x1="1161.2" y1="1168" x2="1252.2" y2="1220.9" stroke="#999" stroke-width="2.9"/>
<line x1="1161.2" y1="1171" x2="1252.2" y2="1235.6" stroke="#999" stroke-width="2.9"/>
<line x1="1161.2" y1="1174" x2="1252.2" y2="1235.6" stroke="#999" stroke-width="2.9"/>
<line x1="1161.2" y1="1183.6" x2="1252.2" y2="1240.1" stroke="#999" stroke-width="2.9"/>
<line x1="1161.2" y1="1187.4" x2="1252.2" y2="1257.5" stroke="#999" stroke-width="2.9"/>
<line x1="1161.2" y1="1191.9" x2="1252.2" y2="1240.1" stroke="#999" stroke-width="2.9"/>
<line x1="1161.2" y1="1238.6" x2="1252.2" y2="1304.4" stroke="#999" stroke-width="2.9"/>
<circle cx="1161.2" cy="1120.6" r="4.1" fill="#fff" stroke="#999" stroke-width="3.5"/>
<circle cx="1161.2" cy="1136" r="4.1" fill="#fff" stroke="#999" stroke-width="3.5"/>
<circle cx="1161.2" cy="1138" r="4.1" fill="#fff" stroke="#999" stroke-width="3.5"/>
<circle cx="1161.2" cy="1142.4" r="4.1" fill="#fff" stroke="#999" stroke-width="3.5"/>
<circle cx="1161.2" cy="1154" r="4.1" fill="#fff" stroke="#999" stroke-width="3.5"/>
<circle cx="1161.2" cy="1166" r="4.1" fill="#fff" stroke="#999" stroke-width="3.5"/>
<circle cx="1161.2" cy="1168" r="4.1" fill="#fff" stroke="#999" stroke-width="3.5"/>
<circle cx="1161.2" cy="1171" r="4.1" fill="#fff" stroke="#999" stroke-width="3.5"/>
<circle cx="1161.2" cy="1174" r="4.1" fill="#fff" stroke="#999" stroke-width="3.5"/>
<circle cx="1161.2" cy="1183.6" r="4.1" fill="#fff" stroke="#999" stroke-width="3.5"/>
<circle cx="1161.2" cy="1187.4" r="4.1" fill="#fff" stroke="#999" stroke-width="3.5"/>
<circle cx="1161.2" cy="1191.9" r="4.1" fill="#fff" stroke="#999" stroke-width="3.5"/>
<circle cx="1161.2" cy="1238.6" r="4.1" fill="#fff" stroke="#999" stroke-width="3.5"/>
<circle cx="1252.2" cy="1192.8" r="4.1" fill="#fff" stroke="#999" stroke-width="3.5"/>
<circle cx="1252.2" cy="1178.7" r="4.1" fill="#fff" stroke="#999" stroke-width="3.5"/>
<circle cx="1252.2" cy="1192.8" r="4.1" fill="#fff" stroke="#999" stroke-width="3.5"/>
<circle cx="1252.2" cy="1209.9" r="4.1" fill="#fff" stroke="#999" stroke-width="3.5"/>
<circle cx="1252.2" cy="1209.9" r="4.1" fill="#fff" stroke="#999" stroke-width="3.5"/>
<circle cx="1252.2" cy="1220.9" r="4.1" fill="#fff" stroke="#999" stroke-width="3.5"/>
<circle cx="1252.2" cy="1220.9" r="4.1" fill="#fff" stroke="#999" stroke-width="3.5"/>
<circle cx="1252.2" cy="1235.6" r="4.1" fill="#fff" stroke="#999" stroke-width="3.5"/>
<circle cx="1252.2" cy="1235.6" r="4.1" fill="#fff" stroke="#999" stroke-width="3.5"/>
<circle cx="1252.2" cy="1240.1" r="4.1" fill="#fff" stroke="#999" stroke-width="3.5"/>
<circle cx="1252.2" cy="1257.5" r="4.1" fill="#fff" stroke="#999" stroke-width="3.5"/>
<circle cx="1252.2" cy="1240.1" r="4.1" fill="#fff" stroke="#999" stroke-width="3.5"/>
<circle cx="1252.2" cy="1304.4" r="4.1" fill="#fff" stroke="#999" stroke-width="3.5"/>
<line x1="1168.8" y1="1157.6" x2="1168.8" y2="1182.3" stroke="#000" stroke-width="6.3"/>
<line x1="1244.7" y1="1210.8" x2="1244.7" y2="1237.3" stroke="#000" stroke-width="6.3"/>
<line x1="1093.8" y1="1092.5" x2="1093.8" y2="1321.3" stroke="#000" stroke-width="2.8"/>
<line x1="1092.4" y1="1319.9" x2="1310" y2="1319.9" stroke="#000" stroke-width="2.8"/>
<line x1="1168.4" y1="1090.6" x2="1248.7" y2="1090.6" stroke="#000" stroke-width="2.8"/>
<text x="1204.7" y="1089.9" font-size="29.5" text-anchor="middle" letter-spacing="1.4">***</text>
<text x="1080" y="1107.5" font-size="25" text-anchor="end">4</text>
<text x="1080" y="1216.8" font-size="25" text-anchor="end">3</text>
<text x="1080" y="1328" font-size="25" text-anchor="end">2</text>
<text x="1164.5" y="1351.8" font-size="25" text-anchor="middle">Exp.1</text>
<text x="1256" y="1351.8" font-size="25" text-anchor="middle">Exp.2</text>
<text transform="translate(1038.4,1207.1) rotate(-90)" font-size="24.95" text-anchor="middle">Aversiveness (1–5)</text>
<clipPath id="sc"><rect x="1092.5" y="1414" width="211" height="210"/></clipPath>
<g clip-path="url(#sc)">
<polygon points="1092.5,1572.14 1096.01,1569.94 1099.52,1567.73 1103.04,1565.53 1106.55,1563.32 1110.06,1561.12 1113.57,1558.91 1117.08,1556.7 1120.59,1554.5 1124.11,1552.29 1127.62,1550.07 1131.13,1547.86 1134.64,1545.64 1138.15,1543.42 1141.66,1541.19 1145.17,1538.97 1148.69,1536.73 1152.2,1534.49 1155.71,1532.25 1159.22,1530 1162.73,1527.74 1166.25,1525.47 1169.76,1523.19 1173.27,1520.9 1176.78,1518.6 1180.29,1516.28 1183.8,1513.95 1187.32,1511.6 1190.83,1509.23 1194.34,1506.83 1197.85,1504.41 1201.36,1501.96 1204.87,1499.48 1208.38,1496.97 1211.9,1494.42 1215.41,1491.83 1218.92,1489.19 1222.43,1486.52 1225.94,1483.8 1229.45,1481.05 1232.97,1478.25 1236.48,1475.41 1239.99,1472.53 1243.5,1469.62 1247.01,1466.66 1250.53,1463.67 1254.04,1460.65 1257.55,1457.61 1261.06,1454.53 1264.57,1451.44 1268.08,1448.32 1271.6,1445.19 1275.11,1442.03 1278.62,1438.87 1282.13,1435.69 1285.64,1432.49 1289.15,1429.29 1292.66,1426.08 1296.18,1422.86 1299.69,1419.63 1303.2,1416.39 1303.2,1448.61 1299.69,1450.81 1296.18,1453.02 1292.66,1455.23 1289.15,1457.45 1285.64,1459.69 1282.13,1461.93 1278.62,1464.19 1275.11,1466.46 1271.6,1468.74 1268.08,1471.05 1264.57,1473.37 1261.06,1475.71 1257.55,1478.07 1254.04,1480.46 1250.53,1482.88 1247.01,1485.33 1243.5,1487.81 1239.99,1490.33 1236.48,1492.88 1232.97,1495.48 1229.45,1498.12 1225.94,1500.8 1222.43,1503.56 1218.92,1506.37 1215.41,1509.22 1211.9,1512.11 1208.38,1515.05 1204.87,1518.02 1201.36,1521.04 1197.85,1524.09 1194.34,1527.17 1190.83,1530.28 1187.32,1533.42 1183.8,1536.59 1180.29,1539.78 1176.78,1542.99 1173.27,1546.22 1169.76,1549.47 1166.25,1552.74 1162.73,1556.03 1159.22,1559.33 1155.71,1562.64 1152.2,1565.97 1148.69,1569.3 1145.17,1572.65 1141.66,1576.02 1138.15,1579.39 1134.64,1582.77 1131.13,1586.16 1127.62,1589.56 1124.11,1592.97 1120.59,1596.39 1117.08,1599.81 1113.57,1603.25 1110.06,1606.69 1106.55,1610.14 1103.04,1613.59 1099.52,1617.05 1096.01,1620.52 1092.5,1623.6" fill="#ffd2d2" stroke="none"/>
<polyline points="1092.5,1572.14 1096.01,1569.94 1099.52,1567.73 1103.04,1565.53 1106.55,1563.32 1110.06,1561.12 1113.57,1558.91 1117.08,1556.7 1120.59,1554.5 1124.11,1552.29 1127.62,1550.07 1131.13,1547.86 1134.64,1545.64 1138.15,1543.42 1141.66,1541.19 1145.17,1538.97 1148.69,1536.73 1152.2,1534.49 1155.71,1532.25 1159.22,1530 1162.73,1527.74 1166.25,1525.47 1169.76,1523.19 1173.27,1520.9 1176.78,1518.6 1180.29,1516.28 1183.8,1513.95 1187.32,1511.6 1190.83,1509.23 1194.34,1506.83 1197.85,1504.41 1201.36,1501.96 1204.87,1499.48 1208.38,1496.97 1211.9,1494.42 1215.41,1491.83 1218.92,1489.19 1222.43,1486.52 1225.94,1483.8 1229.45,1481.05 1232.97,1478.25 1236.48,1475.41 1239.99,1472.53 1243.5,1469.62 1247.01,1466.66 1250.53,1463.67 1254.04,1460.65 1257.55,1457.61 1261.06,1454.53 1264.57,1451.44 1268.08,1448.32 1271.6,1445.19 1275.11,1442.03 1278.62,1438.87 1282.13,1435.69 1285.64,1432.49 1289.15,1429.29 1292.66,1426.08 1296.18,1422.86 1299.69,1419.63 1303.2,1416.39" fill="none" stroke="#ff0000" stroke-width="2.5"/>
<polyline points="1092.5,1624 1096.01,1620.52 1099.52,1617.05 1103.04,1613.59 1106.55,1610.14 1110.06,1606.69 1113.57,1603.25 1117.08,1599.81 1120.59,1596.39 1124.11,1592.97 1127.62,1589.56 1131.13,1586.16 1134.64,1582.77 1138.15,1579.39 1141.66,1576.02 1145.17,1572.65 1148.69,1569.3 1152.2,1565.97 1155.71,1562.64 1159.22,1559.33 1162.73,1556.03 1166.25,1552.74 1169.76,1549.47 1173.27,1546.22 1176.78,1542.99 1180.29,1539.78 1183.8,1536.59 1187.32,1533.42 1190.83,1530.28 1194.34,1527.17 1197.85,1524.09 1201.36,1521.04 1204.87,1518.02 1208.38,1515.05 1211.9,1512.11 1215.41,1509.22 1218.92,1506.37 1222.43,1503.56 1225.94,1500.8 1229.45,1498.12 1232.97,1495.48 1236.48,1492.88 1239.99,1490.33 1243.5,1487.81 1247.01,1485.33 1250.53,1482.88 1254.04,1480.46 1257.55,1478.07 1261.06,1475.71 1264.57,1473.37 1268.08,1471.05 1271.6,1468.74 1275.11,1466.46 1278.62,1464.19 1282.13,1461.93 1285.64,1459.69 1289.15,1457.45 1292.66,1455.23 1296.18,1453.02 1299.69,1450.81 1303.2,1448.61" fill="none" stroke="#ff0000" stroke-width="2.5"/>
<line x1="1092.5" y1="1595.6" x2="1303.2" y2="1432.5" stroke="#ff0000" stroke-width="3.6"/>
</g>
<circle cx="1092.5" cy="1602.4" r="5.4" fill="#999" stroke="#000" stroke-width="2.9"/>
<circle cx="1186.6" cy="1514.9" r="5.4" fill="#999" stroke="#000" stroke-width="2.9"/>
<circle cx="1197.4" cy="1538.2" r="5.4" fill="#999" stroke="#000" stroke-width="2.9"/>
<circle cx="1204.1" cy="1509.1" r="5.4" fill="#999" stroke="#000" stroke-width="2.9"/>
<circle cx="1224.6" cy="1486.9" r="5.4" fill="#999" stroke="#000" stroke-width="2.9"/>
<circle cx="1226.6" cy="1489.1" r="5.4" fill="#999" stroke="#000" stroke-width="2.9"/>
<circle cx="1233.6" cy="1472.5" r="5.4" fill="#999" stroke="#000" stroke-width="2.9"/>
<circle cx="1264" cy="1474.1" r="5.4" fill="#999" stroke="#000" stroke-width="2.9"/>
<circle cx="1287.4" cy="1428.6" r="5.4" fill="#999" stroke="#000" stroke-width="2.9"/>
<circle cx="1302.3" cy="1449.5" r="5.4" fill="#999" stroke="#000" stroke-width="2.9"/>
<line x1="1092.5" y1="1414.2" x2="1092.5" y2="1625" stroke="#000" stroke-width="2.8"/>
<line x1="1091.5" y1="1623.8" x2="1303.2" y2="1623.8" stroke="#000" stroke-width="2.8"/>
<line x1="1088.6" y1="1435.3" x2="1092.5" y2="1435.3" stroke="#000" stroke-width="2.2"/>
<line x1="1088.6" y1="1466.6" x2="1092.5" y2="1466.6" stroke="#000" stroke-width="2.2"/>
<line x1="1088.6" y1="1498.3" x2="1092.5" y2="1498.3" stroke="#000" stroke-width="2.2"/>
<line x1="1088.6" y1="1529.6" x2="1092.5" y2="1529.6" stroke="#000" stroke-width="2.2"/>
<line x1="1088.6" y1="1560.7" x2="1092.5" y2="1560.7" stroke="#000" stroke-width="2.2"/>
<line x1="1088.6" y1="1591.5" x2="1092.5" y2="1591.5" stroke="#000" stroke-width="2.2"/>
<line x1="1088.6" y1="1623.2" x2="1092.5" y2="1623.2" stroke="#000" stroke-width="2.2"/>
<line x1="1110.8" y1="1623.8" x2="1110.8" y2="1628.5" stroke="#000" stroke-width="2.2"/>
<line x1="1157" y1="1623.8" x2="1157" y2="1628.5" stroke="#000" stroke-width="2.2"/>
<line x1="1203.6" y1="1623.8" x2="1203.6" y2="1628.5" stroke="#000" stroke-width="2.2"/>
<line x1="1249.9" y1="1623.8" x2="1249.9" y2="1628.5" stroke="#000" stroke-width="2.2"/>
<line x1="1296.2" y1="1623.8" x2="1296.2" y2="1628.5" stroke="#000" stroke-width="2.2"/>
<text x="1075" y="1446" font-size="25" text-anchor="end">3.2</text>
<text x="1075" y="1508" font-size="25" text-anchor="end">2.8</text>
<text x="1075" y="1570" font-size="25" text-anchor="end">2.4</text>
<text x="1075" y="1632" font-size="25" text-anchor="end">2</text>
<text x="1110" y="1661" font-size="25" text-anchor="middle">2.8</text>
<text x="1203" y="1661" font-size="25" text-anchor="middle">3.2</text>
<text x="1296" y="1661" font-size="25" text-anchor="middle">3.6</text>
<text x="1197" y="1702.1" font-size="25" text-anchor="middle">Scores Exp.1</text>
<text transform="translate(1011,1518.9) rotate(-90)" font-size="24.85" text-anchor="middle">Scores Exp.2</text>
<text x="1182.5" y="1598.3" font-size="25.5" font-style="italic">r</text>
<text x="1194.5" y="1587.2" font-size="16">2</text>
<text x="1207.5" y="1598.3" font-size="25.5">= 0.86,</text>
<text x="1291.5" y="1598.3" font-size="25.5" font-style="italic">p</text>
<text x="1312.2" y="1598.3" font-size="25.5">&lt;</text>
<text x="1334" y="1598.3" font-size="25.5">10</text>
<text x="1362.3" y="1586.4" font-size="16">−5</text>
<rect x="68.8" y="82.93" width="4.73" height="2.97" fill="#fff"/><rect x="76.44" y="82.93" width="4.54" height="2.97" fill="#fff"/>
<rect x="398.74" y="508.03" width="4.73" height="2.97" fill="#fff"/><rect x="406.39" y="508.03" width="4.54" height="2.97" fill="#fff"/>
<rect x="466.14" y="508.03" width="4.73" height="2.97" fill="#fff"/><rect x="473.79" y="508.03" width="4.54" height="2.97" fill="#fff"/>
<rect x="529.64" y="508.03" width="4.73" height="2.97" fill="#fff"/><rect x="537.29" y="508.03" width="4.54" height="2.97" fill="#fff"/>
<rect x="626.64" y="508.03" width="4.73" height="2.97" fill="#fff"/><rect x="634.29" y="508.03" width="4.54" height="2.97" fill="#fff"/>
<g transform="translate(21.2,262.2) rotate(-90)"><rect x="83.5" y="-2.36" width="4.71" height="2.96" fill="#fff"/><rect x="91.12" y="-2.36" width="4.52" height="2.96" fill="#fff"/></g>
<rect x="63.8" y="1068.13" width="4.73" height="2.97" fill="#fff"/><rect x="71.44" y="1068.13" width="4.54" height="2.97" fill="#fff"/>
<rect x="109.8" y="1097.93" width="4.73" height="2.97" fill="#fff"/><rect x="117.44" y="1097.93" width="4.54" height="2.97" fill="#fff"/>
<rect x="395.14" y="1097.93" width="4.73" height="2.97" fill="#fff"/><rect x="402.79" y="1097.93" width="4.54" height="2.97" fill="#fff"/>
<rect x="461.34" y="1097.93" width="4.73" height="2.97" fill="#fff"/><rect x="468.99" y="1097.93" width="4.54" height="2.97" fill="#fff"/>
<rect x="526.94" y="1097.93" width="4.73" height="2.97" fill="#fff"/><rect x="534.59" y="1097.93" width="4.54" height="2.97" fill="#fff"/>
<rect x="622.64" y="1097.93" width="4.73" height="2.97" fill="#fff"/><rect x="630.29" y="1097.93" width="4.54" height="2.97" fill="#fff"/>
<g transform="translate(29.8,851.5) rotate(-90)"><rect x="56.97" y="-2.34" width="4.66" height="2.94" fill="#fff"/><rect x="64.51" y="-2.34" width="4.47" height="2.94" fill="#fff"/></g>
<rect x="68.3" y="1630.33" width="4.73" height="2.97" fill="#fff"/><rect x="75.94" y="1630.33" width="4.54" height="2.97" fill="#fff"/>
<rect x="109.9" y="1659.63" width="4.73" height="2.97" fill="#fff"/><rect x="117.54" y="1659.63" width="4.54" height="2.97" fill="#fff"/>
<rect x="398.04" y="1659.63" width="4.73" height="2.97" fill="#fff"/><rect x="405.69" y="1659.63" width="4.54" height="2.97" fill="#fff"/>
<rect x="461.54" y="1659.63" width="4.73" height="2.97" fill="#fff"/><rect x="469.19" y="1659.63" width="4.54" height="2.97" fill="#fff"/>
<rect x="527.44" y="1659.63" width="4.73" height="2.97" fill="#fff"/><rect x="535.09" y="1659.63" width="4.54" height="2.97" fill="#fff"/>
<rect x="620.24" y="1659.63" width="4.73" height="2.97" fill="#fff"/><rect x="627.89" y="1659.63" width="4.54" height="2.97" fill="#fff"/>
<g transform="translate(33.2,1416.6) rotate(-90)"><rect x="58.14" y="-2.38" width="4.75" height="2.98" fill="#fff"/><rect x="65.81" y="-2.38" width="4.55" height="2.98" fill="#fff"/></g>
<rect x="1183.75" y="1349.43" width="4.73" height="2.97" fill="#fff"/><rect x="1191.39" y="1349.43" width="4.54" height="2.97" fill="#fff"/>
<g transform="translate(1038.4,1207.1) rotate(-90)"><rect x="57.78" y="-2.36" width="4.72" height="2.96" fill="#fff"/><rect x="65.41" y="-2.36" width="4.53" height="2.96" fill="#fff"/></g>
<rect x="1258.63" y="1699.73" width="4.73" height="2.97" fill="#fff"/><rect x="1266.27" y="1699.73" width="4.54" height="2.97" fill="#fff"/>
<rect x="1335.24" y="1595.9" width="4.82" height="3.01" fill="#fff"/><rect x="1343.02" y="1595.9" width="4.62" height="3.01" fill="#fff"/>
</svg>
</body></html>
